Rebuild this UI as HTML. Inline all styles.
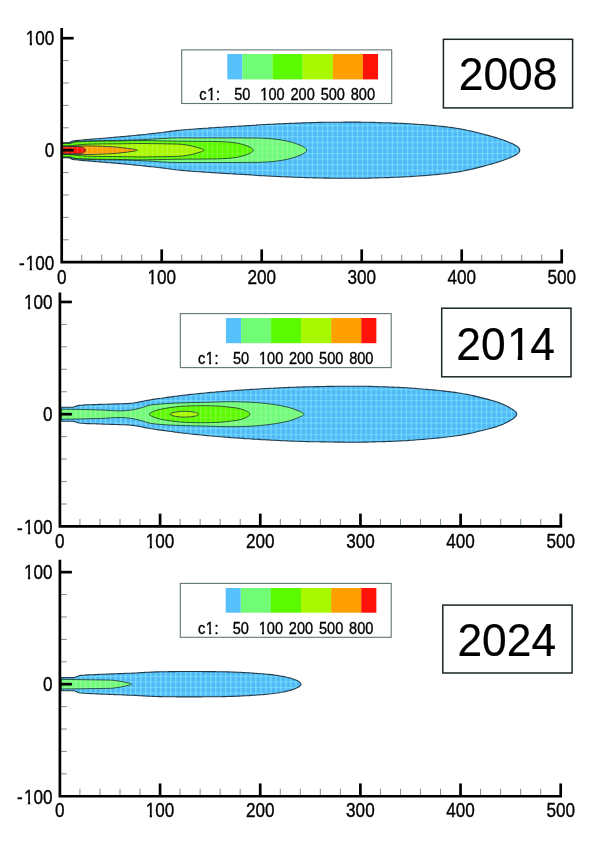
<!DOCTYPE html>
<html><head><meta charset="utf-8"><title>Plume contours 2008 2014 2024</title>
<style>html,body{margin:0;padding:0;background:#fff;}body{width:600px;height:850px;overflow:hidden;}svg{display:block;}</style>
</head><body>
<svg width="600" height="850" viewBox="0 0 600 850">
<rect width="600" height="850" fill="#fff"/>
<defs>
<pattern id="mesh_p1" x="61.80" y="153.00" width="5.000" height="5.600" patternUnits="userSpaceOnUse"><rect x="0" y="0" width="1.2" height="5.600" fill="#84e6ff" fill-opacity="0.7"/><rect x="0" y="0" width="5.000" height="1.1" fill="#84e6ff" fill-opacity="0.55"/></pattern>
<pattern id="meshw_p1" x="61.80" y="153.00" width="5.000" height="5.600" patternUnits="userSpaceOnUse"><rect x="0" y="0" width="1" height="5.600" fill="#fff" fill-opacity="0.22"/><rect x="0" y="0" width="5.000" height="0.8" fill="#fff" fill-opacity="0.12"/></pattern>
<pattern id="mesh_p2" x="60.00" y="417.00" width="5.009" height="5.613" patternUnits="userSpaceOnUse"><rect x="0" y="0" width="1.2" height="5.613" fill="#84e6ff" fill-opacity="0.7"/><rect x="0" y="0" width="5.009" height="1.1" fill="#84e6ff" fill-opacity="0.55"/></pattern>
<pattern id="meshw_p2" x="60.00" y="417.00" width="5.009" height="5.613" patternUnits="userSpaceOnUse"><rect x="0" y="0" width="1" height="5.613" fill="#fff" fill-opacity="0.22"/><rect x="0" y="0" width="5.009" height="0.8" fill="#fff" fill-opacity="0.12"/></pattern>
<pattern id="mesh_p3" x="60.00" y="687.00" width="5.008" height="5.603" patternUnits="userSpaceOnUse"><rect x="0" y="0" width="1.2" height="5.603" fill="#84e6ff" fill-opacity="0.7"/><rect x="0" y="0" width="5.008" height="1.1" fill="#84e6ff" fill-opacity="0.55"/></pattern>
<pattern id="meshw_p3" x="60.00" y="687.00" width="5.008" height="5.603" patternUnits="userSpaceOnUse"><rect x="0" y="0" width="1" height="5.603" fill="#fff" fill-opacity="0.22"/><rect x="0" y="0" width="5.008" height="0.8" fill="#fff" fill-opacity="0.12"/></pattern>
</defs>
<g id="p1"><path d="M62.0,142.7 L64.0,142.7 L66.0,142.7 L68.0,142.6 L70.0,142.3 L72.0,141.2 L74.0,140.8 L76.0,140.6 L78.0,140.4 L80.0,140.2 L82.0,140.0 L84.0,139.8 L86.0,139.6 L88.0,139.5 L90.0,139.3 L92.0,139.1 L94.0,139.0 L96.0,138.8 L98.0,138.7 L100.0,138.5 L102.0,138.3 L104.0,138.2 L106.0,138.0 L108.0,137.8 L110.0,137.7 L112.0,137.5 L114.0,137.3 L116.0,137.1 L118.0,137.0 L120.0,136.8 L122.0,136.6 L124.0,136.5 L126.0,136.3 L128.0,136.1 L130.0,135.9 L132.0,135.7 L134.0,135.5 L136.0,135.3 L138.0,135.1 L140.0,134.9 L142.0,134.7 L144.0,134.5 L146.0,134.3 L148.0,134.0 L150.0,133.8 L152.0,133.6 L154.0,133.4 L156.0,133.2 L158.0,132.9 L160.0,132.7 L162.0,132.5 L164.0,132.2 L166.0,131.9 L168.0,131.7 L170.0,131.4 L172.0,131.1 L174.0,130.9 L176.0,130.6 L178.0,130.4 L180.0,130.2 L182.0,130.0 L184.0,129.8 L186.0,129.7 L188.0,129.5 L190.0,129.3 L192.0,129.2 L194.0,129.0 L196.0,128.9 L198.0,128.7 L200.0,128.6 L202.0,128.5 L204.0,128.3 L206.0,128.2 L208.0,128.1 L210.0,127.9 L212.0,127.8 L214.0,127.7 L216.0,127.5 L218.0,127.4 L220.0,127.3 L222.0,127.2 L224.0,127.0 L226.0,126.9 L228.0,126.8 L230.0,126.7 L232.0,126.6 L234.0,126.5 L236.0,126.3 L238.0,126.2 L240.0,126.1 L242.0,126.0 L244.0,125.9 L246.0,125.8 L248.0,125.6 L250.0,125.5 L252.0,125.4 L254.0,125.2 L256.0,125.1 L258.0,124.9 L260.0,124.8 L262.0,124.7 L264.0,124.6 L266.0,124.5 L268.0,124.4 L270.0,124.3 L272.0,124.2 L274.0,124.1 L276.0,124.0 L278.0,123.9 L280.0,123.8 L282.0,123.7 L284.0,123.6 L286.0,123.5 L288.0,123.5 L290.0,123.4 L292.0,123.3 L294.0,123.2 L296.0,123.1 L298.0,123.1 L300.0,123.0 L302.0,122.9 L304.0,122.9 L306.0,122.8 L308.0,122.7 L310.0,122.6 L312.0,122.6 L314.0,122.5 L316.0,122.5 L318.0,122.4 L320.0,122.4 L322.0,122.4 L324.0,122.3 L326.0,122.3 L328.0,122.3 L330.0,122.3 L332.0,122.2 L334.0,122.2 L336.0,122.2 L338.0,122.2 L340.0,122.2 L342.0,122.2 L344.0,122.1 L346.0,122.1 L348.0,122.1 L350.0,122.1 L352.0,122.1 L354.0,122.1 L356.0,122.1 L358.0,122.1 L360.0,122.1 L362.0,122.2 L364.0,122.2 L366.0,122.2 L368.0,122.3 L370.0,122.3 L372.0,122.4 L374.0,122.4 L376.0,122.5 L378.0,122.5 L380.0,122.6 L382.0,122.7 L384.0,122.7 L386.0,122.8 L388.0,122.8 L390.0,122.9 L392.0,123.0 L394.0,123.1 L396.0,123.1 L398.0,123.2 L400.0,123.3 L402.0,123.4 L404.0,123.5 L406.0,123.6 L408.0,123.7 L410.0,123.8 L412.0,124.0 L414.0,124.1 L416.0,124.2 L418.0,124.4 L420.0,124.5 L422.0,124.6 L424.0,124.8 L426.0,124.9 L428.0,125.1 L430.0,125.3 L432.0,125.4 L434.0,125.6 L436.0,125.8 L438.0,126.0 L440.0,126.2 L442.0,126.4 L444.0,126.6 L446.0,126.8 L448.0,127.1 L450.0,127.3 L452.0,127.6 L454.0,127.9 L456.0,128.2 L458.0,128.5 L460.0,128.8 L462.0,129.2 L464.0,129.6 L466.0,130.0 L468.0,130.5 L470.0,130.9 L472.0,131.3 L474.0,131.8 L476.0,132.3 L478.0,132.8 L480.0,133.3 L482.0,133.8 L484.0,134.3 L486.0,134.9 L488.0,135.4 L490.0,135.9 L492.0,136.5 L494.0,137.1 L496.0,137.6 L498.0,138.3 L500.0,138.9 L502.0,139.6 L504.0,140.3 L506.0,141.1 L508.0,141.9 L510.0,142.7 L512.0,143.6 L514.0,144.5 L516.0,145.6 L516.8,146.2 L517.2,146.5 L517.7,146.8 L518.1,147.2 L518.5,147.6 L518.9,148.1 L519.4,148.7 L519.8,150.2 L519.4,151.7 L518.9,152.3 L518.5,152.8 L518.1,153.2 L517.7,153.6 L517.2,153.9 L516.8,154.2 L516.0,154.8 L514.0,155.9 L512.0,156.8 L510.0,157.7 L508.0,158.5 L506.0,159.3 L504.0,160.1 L502.0,160.8 L500.0,161.5 L498.0,162.1 L496.0,162.8 L494.0,163.3 L492.0,163.9 L490.0,164.5 L488.0,165.0 L486.0,165.5 L484.0,166.1 L482.0,166.6 L480.0,167.1 L478.0,167.6 L476.0,168.1 L474.0,168.6 L472.0,169.1 L470.0,169.5 L468.0,169.9 L466.0,170.4 L464.0,170.8 L462.0,171.2 L460.0,171.6 L458.0,171.9 L456.0,172.2 L454.0,172.5 L452.0,172.8 L450.0,173.1 L448.0,173.3 L446.0,173.6 L444.0,173.8 L442.0,174.0 L440.0,174.2 L438.0,174.4 L436.0,174.6 L434.0,174.8 L432.0,175.0 L430.0,175.1 L428.0,175.3 L426.0,175.5 L424.0,175.6 L422.0,175.8 L420.0,175.9 L418.0,176.0 L416.0,176.2 L414.0,176.3 L412.0,176.4 L410.0,176.6 L408.0,176.7 L406.0,176.8 L404.0,176.9 L402.0,177.0 L400.0,177.1 L398.0,177.2 L396.0,177.3 L394.0,177.3 L392.0,177.4 L390.0,177.5 L388.0,177.6 L386.0,177.6 L384.0,177.7 L382.0,177.7 L380.0,177.8 L378.0,177.9 L376.0,177.9 L374.0,178.0 L372.0,178.0 L370.0,178.1 L368.0,178.1 L366.0,178.2 L364.0,178.2 L362.0,178.2 L360.0,178.3 L358.0,178.3 L356.0,178.3 L354.0,178.3 L352.0,178.3 L350.0,178.3 L348.0,178.3 L346.0,178.3 L344.0,178.3 L342.0,178.2 L340.0,178.2 L338.0,178.2 L336.0,178.2 L334.0,178.2 L332.0,178.2 L330.0,178.1 L328.0,178.1 L326.0,178.1 L324.0,178.1 L322.0,178.0 L320.0,178.0 L318.0,178.0 L316.0,177.9 L314.0,177.9 L312.0,177.8 L310.0,177.8 L308.0,177.7 L306.0,177.6 L304.0,177.5 L302.0,177.5 L300.0,177.4 L298.0,177.3 L296.0,177.3 L294.0,177.2 L292.0,177.1 L290.0,177.0 L288.0,176.9 L286.0,176.9 L284.0,176.8 L282.0,176.7 L280.0,176.6 L278.0,176.5 L276.0,176.4 L274.0,176.3 L272.0,176.2 L270.0,176.1 L268.0,176.0 L266.0,175.9 L264.0,175.8 L262.0,175.7 L260.0,175.6 L258.0,175.5 L256.0,175.3 L254.0,175.2 L252.0,175.0 L250.0,174.9 L248.0,174.8 L246.0,174.6 L244.0,174.5 L242.0,174.4 L240.0,174.3 L238.0,174.2 L236.0,174.1 L234.0,173.9 L232.0,173.8 L230.0,173.7 L228.0,173.6 L226.0,173.5 L224.0,173.4 L222.0,173.2 L220.0,173.1 L218.0,173.0 L216.0,172.9 L214.0,172.7 L212.0,172.6 L210.0,172.5 L208.0,172.3 L206.0,172.2 L204.0,172.1 L202.0,171.9 L200.0,171.8 L198.0,171.7 L196.0,171.5 L194.0,171.4 L192.0,171.2 L190.0,171.1 L188.0,170.9 L186.0,170.7 L184.0,170.6 L182.0,170.4 L180.0,170.2 L178.0,170.0 L176.0,169.8 L174.0,169.5 L172.0,169.3 L170.0,169.0 L168.0,168.7 L166.0,168.5 L164.0,168.2 L162.0,167.9 L160.0,167.7 L158.0,167.5 L156.0,167.2 L154.0,167.0 L152.0,166.8 L150.0,166.6 L148.0,166.4 L146.0,166.1 L144.0,165.9 L142.0,165.7 L140.0,165.5 L138.0,165.3 L136.0,165.1 L134.0,164.9 L132.0,164.7 L130.0,164.5 L128.0,164.3 L126.0,164.1 L124.0,163.9 L122.0,163.8 L120.0,163.6 L118.0,163.4 L116.0,163.3 L114.0,163.1 L112.0,162.9 L110.0,162.7 L108.0,162.6 L106.0,162.4 L104.0,162.2 L102.0,162.1 L100.0,161.9 L98.0,161.7 L96.0,161.6 L94.0,161.4 L92.0,161.3 L90.0,161.1 L88.0,160.9 L86.0,160.8 L84.0,160.6 L82.0,160.4 L80.0,160.2 L78.0,160.0 L76.0,159.8 L74.0,159.6 L72.0,159.2 L70.0,158.1 L68.0,157.8 L66.0,157.7 L64.0,157.7 L62.0,157.7Z" fill="#4fb9f6"/>
<path d="M62.0,142.7 L64.0,142.7 L66.0,142.7 L68.0,142.6 L70.0,142.3 L72.0,141.2 L74.0,140.8 L76.0,140.6 L78.0,140.4 L80.0,140.2 L82.0,140.0 L84.0,139.8 L86.0,139.6 L88.0,139.5 L90.0,139.3 L92.0,139.1 L94.0,139.0 L96.0,138.8 L98.0,138.7 L100.0,138.5 L102.0,138.3 L104.0,138.2 L106.0,138.0 L108.0,137.8 L110.0,137.7 L112.0,137.5 L114.0,137.3 L116.0,137.1 L118.0,137.0 L120.0,136.8 L122.0,136.6 L124.0,136.5 L126.0,136.3 L128.0,136.1 L130.0,135.9 L132.0,135.7 L134.0,135.5 L136.0,135.3 L138.0,135.1 L140.0,134.9 L142.0,134.7 L144.0,134.5 L146.0,134.3 L148.0,134.0 L150.0,133.8 L152.0,133.6 L154.0,133.4 L156.0,133.2 L158.0,132.9 L160.0,132.7 L162.0,132.5 L164.0,132.2 L166.0,131.9 L168.0,131.7 L170.0,131.4 L172.0,131.1 L174.0,130.9 L176.0,130.6 L178.0,130.4 L180.0,130.2 L182.0,130.0 L184.0,129.8 L186.0,129.7 L188.0,129.5 L190.0,129.3 L192.0,129.2 L194.0,129.0 L196.0,128.9 L198.0,128.7 L200.0,128.6 L202.0,128.5 L204.0,128.3 L206.0,128.2 L208.0,128.1 L210.0,127.9 L212.0,127.8 L214.0,127.7 L216.0,127.5 L218.0,127.4 L220.0,127.3 L222.0,127.2 L224.0,127.0 L226.0,126.9 L228.0,126.8 L230.0,126.7 L232.0,126.6 L234.0,126.5 L236.0,126.3 L238.0,126.2 L240.0,126.1 L242.0,126.0 L244.0,125.9 L246.0,125.8 L248.0,125.6 L250.0,125.5 L252.0,125.4 L254.0,125.2 L256.0,125.1 L258.0,124.9 L260.0,124.8 L262.0,124.7 L264.0,124.6 L266.0,124.5 L268.0,124.4 L270.0,124.3 L272.0,124.2 L274.0,124.1 L276.0,124.0 L278.0,123.9 L280.0,123.8 L282.0,123.7 L284.0,123.6 L286.0,123.5 L288.0,123.5 L290.0,123.4 L292.0,123.3 L294.0,123.2 L296.0,123.1 L298.0,123.1 L300.0,123.0 L302.0,122.9 L304.0,122.9 L306.0,122.8 L308.0,122.7 L310.0,122.6 L312.0,122.6 L314.0,122.5 L316.0,122.5 L318.0,122.4 L320.0,122.4 L322.0,122.4 L324.0,122.3 L326.0,122.3 L328.0,122.3 L330.0,122.3 L332.0,122.2 L334.0,122.2 L336.0,122.2 L338.0,122.2 L340.0,122.2 L342.0,122.2 L344.0,122.1 L346.0,122.1 L348.0,122.1 L350.0,122.1 L352.0,122.1 L354.0,122.1 L356.0,122.1 L358.0,122.1 L360.0,122.1 L362.0,122.2 L364.0,122.2 L366.0,122.2 L368.0,122.3 L370.0,122.3 L372.0,122.4 L374.0,122.4 L376.0,122.5 L378.0,122.5 L380.0,122.6 L382.0,122.7 L384.0,122.7 L386.0,122.8 L388.0,122.8 L390.0,122.9 L392.0,123.0 L394.0,123.1 L396.0,123.1 L398.0,123.2 L400.0,123.3 L402.0,123.4 L404.0,123.5 L406.0,123.6 L408.0,123.7 L410.0,123.8 L412.0,124.0 L414.0,124.1 L416.0,124.2 L418.0,124.4 L420.0,124.5 L422.0,124.6 L424.0,124.8 L426.0,124.9 L428.0,125.1 L430.0,125.3 L432.0,125.4 L434.0,125.6 L436.0,125.8 L438.0,126.0 L440.0,126.2 L442.0,126.4 L444.0,126.6 L446.0,126.8 L448.0,127.1 L450.0,127.3 L452.0,127.6 L454.0,127.9 L456.0,128.2 L458.0,128.5 L460.0,128.8 L462.0,129.2 L464.0,129.6 L466.0,130.0 L468.0,130.5 L470.0,130.9 L472.0,131.3 L474.0,131.8 L476.0,132.3 L478.0,132.8 L480.0,133.3 L482.0,133.8 L484.0,134.3 L486.0,134.9 L488.0,135.4 L490.0,135.9 L492.0,136.5 L494.0,137.1 L496.0,137.6 L498.0,138.3 L500.0,138.9 L502.0,139.6 L504.0,140.3 L506.0,141.1 L508.0,141.9 L510.0,142.7 L512.0,143.6 L514.0,144.5 L516.0,145.6 L516.8,146.2 L517.2,146.5 L517.7,146.8 L518.1,147.2 L518.5,147.6 L518.9,148.1 L519.4,148.7 L519.8,150.2 L519.4,151.7 L518.9,152.3 L518.5,152.8 L518.1,153.2 L517.7,153.6 L517.2,153.9 L516.8,154.2 L516.0,154.8 L514.0,155.9 L512.0,156.8 L510.0,157.7 L508.0,158.5 L506.0,159.3 L504.0,160.1 L502.0,160.8 L500.0,161.5 L498.0,162.1 L496.0,162.8 L494.0,163.3 L492.0,163.9 L490.0,164.5 L488.0,165.0 L486.0,165.5 L484.0,166.1 L482.0,166.6 L480.0,167.1 L478.0,167.6 L476.0,168.1 L474.0,168.6 L472.0,169.1 L470.0,169.5 L468.0,169.9 L466.0,170.4 L464.0,170.8 L462.0,171.2 L460.0,171.6 L458.0,171.9 L456.0,172.2 L454.0,172.5 L452.0,172.8 L450.0,173.1 L448.0,173.3 L446.0,173.6 L444.0,173.8 L442.0,174.0 L440.0,174.2 L438.0,174.4 L436.0,174.6 L434.0,174.8 L432.0,175.0 L430.0,175.1 L428.0,175.3 L426.0,175.5 L424.0,175.6 L422.0,175.8 L420.0,175.9 L418.0,176.0 L416.0,176.2 L414.0,176.3 L412.0,176.4 L410.0,176.6 L408.0,176.7 L406.0,176.8 L404.0,176.9 L402.0,177.0 L400.0,177.1 L398.0,177.2 L396.0,177.3 L394.0,177.3 L392.0,177.4 L390.0,177.5 L388.0,177.6 L386.0,177.6 L384.0,177.7 L382.0,177.7 L380.0,177.8 L378.0,177.9 L376.0,177.9 L374.0,178.0 L372.0,178.0 L370.0,178.1 L368.0,178.1 L366.0,178.2 L364.0,178.2 L362.0,178.2 L360.0,178.3 L358.0,178.3 L356.0,178.3 L354.0,178.3 L352.0,178.3 L350.0,178.3 L348.0,178.3 L346.0,178.3 L344.0,178.3 L342.0,178.2 L340.0,178.2 L338.0,178.2 L336.0,178.2 L334.0,178.2 L332.0,178.2 L330.0,178.1 L328.0,178.1 L326.0,178.1 L324.0,178.1 L322.0,178.0 L320.0,178.0 L318.0,178.0 L316.0,177.9 L314.0,177.9 L312.0,177.8 L310.0,177.8 L308.0,177.7 L306.0,177.6 L304.0,177.5 L302.0,177.5 L300.0,177.4 L298.0,177.3 L296.0,177.3 L294.0,177.2 L292.0,177.1 L290.0,177.0 L288.0,176.9 L286.0,176.9 L284.0,176.8 L282.0,176.7 L280.0,176.6 L278.0,176.5 L276.0,176.4 L274.0,176.3 L272.0,176.2 L270.0,176.1 L268.0,176.0 L266.0,175.9 L264.0,175.8 L262.0,175.7 L260.0,175.6 L258.0,175.5 L256.0,175.3 L254.0,175.2 L252.0,175.0 L250.0,174.9 L248.0,174.8 L246.0,174.6 L244.0,174.5 L242.0,174.4 L240.0,174.3 L238.0,174.2 L236.0,174.1 L234.0,173.9 L232.0,173.8 L230.0,173.7 L228.0,173.6 L226.0,173.5 L224.0,173.4 L222.0,173.2 L220.0,173.1 L218.0,173.0 L216.0,172.9 L214.0,172.7 L212.0,172.6 L210.0,172.5 L208.0,172.3 L206.0,172.2 L204.0,172.1 L202.0,171.9 L200.0,171.8 L198.0,171.7 L196.0,171.5 L194.0,171.4 L192.0,171.2 L190.0,171.1 L188.0,170.9 L186.0,170.7 L184.0,170.6 L182.0,170.4 L180.0,170.2 L178.0,170.0 L176.0,169.8 L174.0,169.5 L172.0,169.3 L170.0,169.0 L168.0,168.7 L166.0,168.5 L164.0,168.2 L162.0,167.9 L160.0,167.7 L158.0,167.5 L156.0,167.2 L154.0,167.0 L152.0,166.8 L150.0,166.6 L148.0,166.4 L146.0,166.1 L144.0,165.9 L142.0,165.7 L140.0,165.5 L138.0,165.3 L136.0,165.1 L134.0,164.9 L132.0,164.7 L130.0,164.5 L128.0,164.3 L126.0,164.1 L124.0,163.9 L122.0,163.8 L120.0,163.6 L118.0,163.4 L116.0,163.3 L114.0,163.1 L112.0,162.9 L110.0,162.7 L108.0,162.6 L106.0,162.4 L104.0,162.2 L102.0,162.1 L100.0,161.9 L98.0,161.7 L96.0,161.6 L94.0,161.4 L92.0,161.3 L90.0,161.1 L88.0,160.9 L86.0,160.8 L84.0,160.6 L82.0,160.4 L80.0,160.2 L78.0,160.0 L76.0,159.8 L74.0,159.6 L72.0,159.2 L70.0,158.1 L68.0,157.8 L66.0,157.7 L64.0,157.7 L62.0,157.7Z" fill="url(#mesh_p1)"/>
<path d="M62.0,143.1 L64.0,143.1 L66.0,143.1 L68.0,143.1 L70.0,143.1 L72.0,142.6 L74.0,141.8 L76.0,141.5 L78.0,141.4 L80.0,141.3 L82.0,141.2 L84.0,141.1 L86.0,141.0 L88.0,141.0 L90.0,140.9 L92.0,140.9 L94.0,140.8 L96.0,140.8 L98.0,140.7 L100.0,140.7 L102.0,140.7 L104.0,140.6 L106.0,140.6 L108.0,140.6 L110.0,140.6 L112.0,140.5 L114.0,140.5 L116.0,140.5 L118.0,140.4 L120.0,140.4 L122.0,140.4 L124.0,140.3 L126.0,140.3 L128.0,140.2 L130.0,140.1 L132.0,140.1 L134.0,140.0 L136.0,139.9 L138.0,139.9 L140.0,139.8 L142.0,139.7 L144.0,139.6 L146.0,139.5 L148.0,139.4 L150.0,139.3 L152.0,139.2 L154.0,139.0 L156.0,138.9 L158.0,138.8 L160.0,138.6 L162.0,138.5 L164.0,138.4 L166.0,138.3 L168.0,138.2 L170.0,138.1 L172.0,138.0 L174.0,138.0 L176.0,137.9 L178.0,137.9 L180.0,137.9 L182.0,137.9 L184.0,137.9 L186.0,137.9 L188.0,137.9 L190.0,137.9 L192.0,137.9 L194.0,137.9 L196.0,137.9 L198.0,137.9 L200.0,137.9 L202.0,137.9 L204.0,137.9 L206.0,137.9 L208.0,137.9 L210.0,137.9 L212.0,137.9 L214.0,137.9 L216.0,137.9 L218.0,137.9 L220.0,137.9 L222.0,137.9 L224.0,137.9 L226.0,137.9 L228.0,137.9 L230.0,137.9 L232.0,137.9 L234.0,137.9 L236.0,137.9 L238.0,137.9 L240.0,137.9 L242.0,137.9 L244.0,137.9 L246.0,138.0 L248.0,138.0 L250.0,138.0 L252.0,138.0 L254.0,138.0 L256.0,138.0 L258.0,138.0 L260.0,138.1 L262.0,138.2 L264.0,138.3 L266.0,138.4 L268.0,138.5 L270.0,138.6 L272.0,138.8 L274.0,139.0 L276.0,139.2 L278.0,139.5 L280.0,139.8 L282.0,140.1 L284.0,140.5 L286.0,140.9 L288.0,141.3 L290.0,141.8 L292.0,142.3 L294.0,142.9 L296.0,143.6 L298.0,144.4 L300.0,145.2 L302.0,146.1 L303.7,147.0 L304.1,147.3 L304.6,147.6 L305.0,147.8 L305.4,148.2 L305.8,148.6 L306.3,149.0 L306.7,150.2 L306.3,151.4 L305.8,151.8 L305.4,152.2 L305.0,152.6 L304.6,152.8 L304.1,153.1 L303.7,153.4 L302.0,154.3 L300.0,155.2 L298.0,156.0 L296.0,156.8 L294.0,157.5 L292.0,158.1 L290.0,158.6 L288.0,159.1 L286.0,159.5 L284.0,159.9 L282.0,160.3 L280.0,160.6 L278.0,160.9 L276.0,161.2 L274.0,161.4 L272.0,161.6 L270.0,161.8 L268.0,161.9 L266.0,162.0 L264.0,162.1 L262.0,162.2 L260.0,162.3 L258.0,162.4 L256.0,162.4 L254.0,162.4 L252.0,162.4 L250.0,162.4 L248.0,162.4 L246.0,162.4 L244.0,162.5 L242.0,162.5 L240.0,162.5 L238.0,162.5 L236.0,162.5 L234.0,162.5 L232.0,162.5 L230.0,162.5 L228.0,162.5 L226.0,162.5 L224.0,162.5 L222.0,162.5 L220.0,162.5 L218.0,162.5 L216.0,162.5 L214.0,162.5 L212.0,162.5 L210.0,162.5 L208.0,162.5 L206.0,162.5 L204.0,162.5 L202.0,162.5 L200.0,162.5 L198.0,162.5 L196.0,162.5 L194.0,162.5 L192.0,162.5 L190.0,162.5 L188.0,162.5 L186.0,162.5 L184.0,162.5 L182.0,162.5 L180.0,162.5 L178.0,162.5 L176.0,162.5 L174.0,162.4 L172.0,162.4 L170.0,162.3 L168.0,162.2 L166.0,162.1 L164.0,162.0 L162.0,161.9 L160.0,161.8 L158.0,161.6 L156.0,161.5 L154.0,161.4 L152.0,161.2 L150.0,161.1 L148.0,161.0 L146.0,160.9 L144.0,160.8 L142.0,160.7 L140.0,160.6 L138.0,160.5 L136.0,160.5 L134.0,160.4 L132.0,160.3 L130.0,160.3 L128.0,160.2 L126.0,160.1 L124.0,160.1 L122.0,160.0 L120.0,160.0 L118.0,160.0 L116.0,159.9 L114.0,159.9 L112.0,159.9 L110.0,159.8 L108.0,159.8 L106.0,159.8 L104.0,159.8 L102.0,159.7 L100.0,159.7 L98.0,159.7 L96.0,159.6 L94.0,159.6 L92.0,159.5 L90.0,159.5 L88.0,159.4 L86.0,159.4 L84.0,159.3 L82.0,159.2 L80.0,159.1 L78.0,159.0 L76.0,158.9 L74.0,158.6 L72.0,157.8 L70.0,157.3 L68.0,157.3 L66.0,157.3 L64.0,157.3 L62.0,157.3Z" fill="#72fa7a"/>
<path d="M62.0,143.4 L64.0,143.4 L66.0,143.4 L68.0,143.4 L70.0,143.4 L72.0,142.9 L74.0,142.2 L76.0,141.9 L78.0,141.8 L80.0,141.7 L82.0,141.6 L84.0,141.5 L86.0,141.4 L88.0,141.4 L90.0,141.3 L92.0,141.3 L94.0,141.2 L96.0,141.2 L98.0,141.1 L100.0,141.1 L102.0,141.1 L104.0,141.1 L106.0,141.0 L108.0,141.0 L110.0,141.0 L112.0,141.0 L114.0,141.0 L116.0,140.9 L118.0,140.9 L120.0,140.9 L122.0,140.9 L124.0,140.8 L126.0,140.8 L128.0,140.8 L130.0,140.7 L132.0,140.7 L134.0,140.6 L136.0,140.6 L138.0,140.6 L140.0,140.6 L142.0,140.6 L144.0,140.6 L146.0,140.6 L148.0,140.6 L150.0,140.7 L152.0,140.7 L154.0,140.7 L156.0,140.8 L158.0,140.8 L160.0,140.8 L162.0,140.9 L164.0,140.9 L166.0,141.0 L168.0,141.0 L170.0,141.0 L172.0,141.1 L174.0,141.1 L176.0,141.1 L178.0,141.2 L180.0,141.2 L182.0,141.2 L184.0,141.2 L186.0,141.3 L188.0,141.3 L190.0,141.3 L192.0,141.3 L194.0,141.3 L196.0,141.3 L198.0,141.3 L200.0,141.4 L202.0,141.4 L204.0,141.4 L206.0,141.4 L208.0,141.4 L210.0,141.4 L212.0,141.5 L214.0,141.5 L216.0,141.5 L218.0,141.6 L220.0,141.6 L222.0,141.7 L224.0,141.8 L226.0,141.9 L228.0,142.0 L230.0,142.2 L232.0,142.4 L234.0,142.7 L236.0,142.9 L238.0,143.3 L240.0,143.8 L242.0,144.3 L244.0,144.9 L246.0,145.5 L248.0,146.3 L250.0,147.2 L250.3,147.3 L250.7,147.6 L251.2,147.8 L251.6,148.1 L252.0,148.4 L252.4,148.7 L252.9,149.2 L253.3,150.2 L252.9,151.2 L252.4,151.7 L252.0,152.0 L251.6,152.3 L251.2,152.6 L250.7,152.8 L250.3,153.1 L250.0,153.2 L248.0,154.1 L246.0,154.9 L244.0,155.5 L242.0,156.1 L240.0,156.6 L238.0,157.1 L236.0,157.5 L234.0,157.7 L232.0,158.0 L230.0,158.2 L228.0,158.4 L226.0,158.5 L224.0,158.6 L222.0,158.7 L220.0,158.8 L218.0,158.8 L216.0,158.9 L214.0,158.9 L212.0,158.9 L210.0,159.0 L208.0,159.0 L206.0,159.0 L204.0,159.0 L202.0,159.0 L200.0,159.0 L198.0,159.1 L196.0,159.1 L194.0,159.1 L192.0,159.1 L190.0,159.1 L188.0,159.1 L186.0,159.1 L184.0,159.2 L182.0,159.2 L180.0,159.2 L178.0,159.2 L176.0,159.3 L174.0,159.3 L172.0,159.3 L170.0,159.4 L168.0,159.4 L166.0,159.4 L164.0,159.5 L162.0,159.5 L160.0,159.6 L158.0,159.6 L156.0,159.6 L154.0,159.7 L152.0,159.7 L150.0,159.7 L148.0,159.8 L146.0,159.8 L144.0,159.8 L142.0,159.8 L140.0,159.8 L138.0,159.8 L136.0,159.8 L134.0,159.8 L132.0,159.7 L130.0,159.7 L128.0,159.6 L126.0,159.6 L124.0,159.6 L122.0,159.5 L120.0,159.5 L118.0,159.5 L116.0,159.5 L114.0,159.4 L112.0,159.4 L110.0,159.4 L108.0,159.4 L106.0,159.4 L104.0,159.3 L102.0,159.3 L100.0,159.3 L98.0,159.3 L96.0,159.2 L94.0,159.2 L92.0,159.1 L90.0,159.1 L88.0,159.0 L86.0,159.0 L84.0,158.9 L82.0,158.8 L80.0,158.7 L78.0,158.6 L76.0,158.5 L74.0,158.2 L72.0,157.5 L70.0,157.0 L68.0,157.0 L66.0,157.0 L64.0,157.0 L62.0,157.0Z" fill="#5cfa00"/>
<path d="M62.0,146.0 L64.0,146.0 L66.0,145.9 L68.0,145.9 L70.0,145.8 L72.0,145.7 L74.0,145.5 L76.0,145.2 L78.0,144.9 L80.0,144.7 L82.0,144.6 L84.0,144.4 L86.0,144.3 L88.0,144.2 L90.0,144.1 L92.0,144.1 L94.0,144.0 L96.0,144.0 L98.0,144.0 L100.0,143.9 L102.0,143.9 L104.0,143.9 L106.0,143.9 L108.0,143.9 L110.0,143.9 L112.0,143.9 L114.0,143.8 L116.0,143.8 L118.0,143.8 L120.0,143.8 L122.0,143.8 L124.0,143.7 L126.0,143.7 L128.0,143.7 L130.0,143.6 L132.0,143.6 L134.0,143.6 L136.0,143.5 L138.0,143.5 L140.0,143.5 L142.0,143.5 L144.0,143.5 L146.0,143.5 L148.0,143.5 L150.0,143.6 L152.0,143.6 L154.0,143.6 L156.0,143.6 L158.0,143.7 L160.0,143.7 L162.0,143.7 L164.0,143.8 L166.0,143.8 L168.0,143.9 L170.0,143.9 L172.0,143.9 L174.0,144.0 L176.0,144.0 L178.0,144.1 L180.0,144.2 L182.0,144.3 L184.0,144.6 L186.0,144.9 L188.0,145.2 L190.0,145.6 L192.0,146.0 L194.0,146.5 L196.0,147.1 L198.0,147.7 L200.0,148.3 L201.0,148.6 L201.4,148.7 L201.9,148.9 L202.3,149.0 L202.7,149.2 L203.1,149.4 L203.6,149.6 L204.0,150.2 L203.6,150.8 L203.1,151.0 L202.7,151.2 L202.3,151.4 L201.9,151.5 L201.4,151.7 L201.0,151.8 L200.0,152.1 L198.0,152.7 L196.0,153.3 L194.0,153.9 L192.0,154.4 L190.0,154.8 L188.0,155.2 L186.0,155.5 L184.0,155.8 L182.0,156.1 L180.0,156.2 L178.0,156.3 L176.0,156.4 L174.0,156.4 L172.0,156.5 L170.0,156.5 L168.0,156.5 L166.0,156.6 L164.0,156.6 L162.0,156.7 L160.0,156.7 L158.0,156.7 L156.0,156.8 L154.0,156.8 L152.0,156.8 L150.0,156.8 L148.0,156.9 L146.0,156.9 L144.0,156.9 L142.0,156.9 L140.0,156.9 L138.0,156.9 L136.0,156.9 L134.0,156.8 L132.0,156.8 L130.0,156.8 L128.0,156.7 L126.0,156.7 L124.0,156.7 L122.0,156.6 L120.0,156.6 L118.0,156.6 L116.0,156.6 L114.0,156.6 L112.0,156.5 L110.0,156.5 L108.0,156.5 L106.0,156.5 L104.0,156.5 L102.0,156.5 L100.0,156.5 L98.0,156.4 L96.0,156.4 L94.0,156.4 L92.0,156.3 L90.0,156.3 L88.0,156.2 L86.0,156.1 L84.0,156.0 L82.0,155.8 L80.0,155.7 L78.0,155.5 L76.0,155.2 L74.0,154.9 L72.0,154.7 L70.0,154.6 L68.0,154.5 L66.0,154.5 L64.0,154.4 L62.0,154.4Z" fill="#a8f800"/>
<path d="M62.0,146.3 L64.0,146.3 L66.0,146.2 L68.0,146.2 L70.0,146.2 L72.0,146.1 L74.0,146.1 L76.0,146.1 L78.0,146.0 L80.0,146.0 L82.0,146.0 L84.0,145.9 L86.0,145.9 L88.0,145.9 L90.0,145.9 L92.0,145.9 L94.0,146.0 L96.0,146.1 L98.0,146.1 L100.0,146.2 L102.0,146.3 L104.0,146.4 L106.0,146.5 L108.0,146.6 L110.0,146.7 L112.0,146.8 L114.0,146.9 L116.0,147.1 L118.0,147.2 L120.0,147.4 L122.0,147.7 L124.0,147.9 L126.0,148.1 L128.0,148.4 L130.0,148.7 L132.0,149.0 L134.0,149.3 L134.5,149.4 L134.9,149.5 L135.4,149.5 L135.8,149.6 L136.2,149.7 L136.6,149.8 L137.1,149.9 L137.5,150.2 L137.1,150.5 L136.6,150.6 L136.2,150.7 L135.8,150.8 L135.4,150.9 L134.9,150.9 L134.5,151.0 L134.0,151.1 L132.0,151.4 L130.0,151.7 L128.0,152.0 L126.0,152.3 L124.0,152.5 L122.0,152.7 L120.0,153.0 L118.0,153.2 L116.0,153.3 L114.0,153.5 L112.0,153.6 L110.0,153.7 L108.0,153.8 L106.0,153.9 L104.0,154.0 L102.0,154.1 L100.0,154.2 L98.0,154.3 L96.0,154.3 L94.0,154.4 L92.0,154.5 L90.0,154.5 L88.0,154.5 L86.0,154.5 L84.0,154.5 L82.0,154.4 L80.0,154.4 L78.0,154.4 L76.0,154.3 L74.0,154.3 L72.0,154.3 L70.0,154.2 L68.0,154.2 L66.0,154.2 L64.0,154.1 L62.0,154.1Z" fill="#ffa000"/>
<path d="M62.0,146.5 L64.0,146.5 L66.0,146.5 L68.0,146.5 L70.0,146.5 L72.0,146.5 L74.0,146.5 L76.0,146.5 L78.0,146.5 L80.0,146.7 L82.0,147.1 L82.5,147.3 L82.9,147.4 L83.4,147.6 L83.8,147.9 L84.2,148.2 L84.6,148.5 L85.1,149.0 L85.5,150.2 L85.1,151.4 L84.6,151.9 L84.2,152.2 L83.8,152.5 L83.4,152.8 L82.9,153.0 L82.5,153.1 L82.0,153.3 L80.0,153.7 L78.0,153.9 L76.0,153.9 L74.0,153.9 L72.0,153.9 L70.0,153.9 L68.0,153.9 L66.0,153.9 L64.0,153.9 L62.0,153.9Z" fill="#ff1208"/>
<path d="M62.0,143.1 L64.0,143.1 L66.0,143.1 L68.0,143.1 L70.0,143.1 L72.0,142.6 L74.0,141.8 L76.0,141.5 L78.0,141.4 L80.0,141.3 L82.0,141.2 L84.0,141.1 L86.0,141.0 L88.0,141.0 L90.0,140.9 L92.0,140.9 L94.0,140.8 L96.0,140.8 L98.0,140.7 L100.0,140.7 L102.0,140.7 L104.0,140.6 L106.0,140.6 L108.0,140.6 L110.0,140.6 L112.0,140.5 L114.0,140.5 L116.0,140.5 L118.0,140.4 L120.0,140.4 L122.0,140.4 L124.0,140.3 L126.0,140.3 L128.0,140.2 L130.0,140.1 L132.0,140.1 L134.0,140.0 L136.0,139.9 L138.0,139.9 L140.0,139.8 L142.0,139.7 L144.0,139.6 L146.0,139.5 L148.0,139.4 L150.0,139.3 L152.0,139.2 L154.0,139.0 L156.0,138.9 L158.0,138.8 L160.0,138.6 L162.0,138.5 L164.0,138.4 L166.0,138.3 L168.0,138.2 L170.0,138.1 L172.0,138.0 L174.0,138.0 L176.0,137.9 L178.0,137.9 L180.0,137.9 L182.0,137.9 L184.0,137.9 L186.0,137.9 L188.0,137.9 L190.0,137.9 L192.0,137.9 L194.0,137.9 L196.0,137.9 L198.0,137.9 L200.0,137.9 L202.0,137.9 L204.0,137.9 L206.0,137.9 L208.0,137.9 L210.0,137.9 L212.0,137.9 L214.0,137.9 L216.0,137.9 L218.0,137.9 L220.0,137.9 L222.0,137.9 L224.0,137.9 L226.0,137.9 L228.0,137.9 L230.0,137.9 L232.0,137.9 L234.0,137.9 L236.0,137.9 L238.0,137.9 L240.0,137.9 L242.0,137.9 L244.0,137.9 L246.0,138.0 L248.0,138.0 L250.0,138.0 L252.0,138.0 L254.0,138.0 L256.0,138.0 L258.0,138.0 L260.0,138.1 L262.0,138.2 L264.0,138.3 L266.0,138.4 L268.0,138.5 L270.0,138.6 L272.0,138.8 L274.0,139.0 L276.0,139.2 L278.0,139.5 L280.0,139.8 L282.0,140.1 L284.0,140.5 L286.0,140.9 L288.0,141.3 L290.0,141.8 L292.0,142.3 L294.0,142.9 L296.0,143.6 L298.0,144.4 L300.0,145.2 L302.0,146.1 L303.7,147.0 L304.1,147.3 L304.6,147.6 L305.0,147.8 L305.4,148.2 L305.8,148.6 L306.3,149.0 L306.7,150.2 L306.3,151.4 L305.8,151.8 L305.4,152.2 L305.0,152.6 L304.6,152.8 L304.1,153.1 L303.7,153.4 L302.0,154.3 L300.0,155.2 L298.0,156.0 L296.0,156.8 L294.0,157.5 L292.0,158.1 L290.0,158.6 L288.0,159.1 L286.0,159.5 L284.0,159.9 L282.0,160.3 L280.0,160.6 L278.0,160.9 L276.0,161.2 L274.0,161.4 L272.0,161.6 L270.0,161.8 L268.0,161.9 L266.0,162.0 L264.0,162.1 L262.0,162.2 L260.0,162.3 L258.0,162.4 L256.0,162.4 L254.0,162.4 L252.0,162.4 L250.0,162.4 L248.0,162.4 L246.0,162.4 L244.0,162.5 L242.0,162.5 L240.0,162.5 L238.0,162.5 L236.0,162.5 L234.0,162.5 L232.0,162.5 L230.0,162.5 L228.0,162.5 L226.0,162.5 L224.0,162.5 L222.0,162.5 L220.0,162.5 L218.0,162.5 L216.0,162.5 L214.0,162.5 L212.0,162.5 L210.0,162.5 L208.0,162.5 L206.0,162.5 L204.0,162.5 L202.0,162.5 L200.0,162.5 L198.0,162.5 L196.0,162.5 L194.0,162.5 L192.0,162.5 L190.0,162.5 L188.0,162.5 L186.0,162.5 L184.0,162.5 L182.0,162.5 L180.0,162.5 L178.0,162.5 L176.0,162.5 L174.0,162.4 L172.0,162.4 L170.0,162.3 L168.0,162.2 L166.0,162.1 L164.0,162.0 L162.0,161.9 L160.0,161.8 L158.0,161.6 L156.0,161.5 L154.0,161.4 L152.0,161.2 L150.0,161.1 L148.0,161.0 L146.0,160.9 L144.0,160.8 L142.0,160.7 L140.0,160.6 L138.0,160.5 L136.0,160.5 L134.0,160.4 L132.0,160.3 L130.0,160.3 L128.0,160.2 L126.0,160.1 L124.0,160.1 L122.0,160.0 L120.0,160.0 L118.0,160.0 L116.0,159.9 L114.0,159.9 L112.0,159.9 L110.0,159.8 L108.0,159.8 L106.0,159.8 L104.0,159.8 L102.0,159.7 L100.0,159.7 L98.0,159.7 L96.0,159.6 L94.0,159.6 L92.0,159.5 L90.0,159.5 L88.0,159.4 L86.0,159.4 L84.0,159.3 L82.0,159.2 L80.0,159.1 L78.0,159.0 L76.0,158.9 L74.0,158.6 L72.0,157.8 L70.0,157.3 L68.0,157.3 L66.0,157.3 L64.0,157.3 L62.0,157.3Z" fill="url(#meshw_p1)"/>
<path d="M62.0,142.7 L64.0,142.7 L66.0,142.7 L68.0,142.6 L70.0,142.3 L72.0,141.2 L74.0,140.8 L76.0,140.6 L78.0,140.4 L80.0,140.2 L82.0,140.0 L84.0,139.8 L86.0,139.6 L88.0,139.5 L90.0,139.3 L92.0,139.1 L94.0,139.0 L96.0,138.8 L98.0,138.7 L100.0,138.5 L102.0,138.3 L104.0,138.2 L106.0,138.0 L108.0,137.8 L110.0,137.7 L112.0,137.5 L114.0,137.3 L116.0,137.1 L118.0,137.0 L120.0,136.8 L122.0,136.6 L124.0,136.5 L126.0,136.3 L128.0,136.1 L130.0,135.9 L132.0,135.7 L134.0,135.5 L136.0,135.3 L138.0,135.1 L140.0,134.9 L142.0,134.7 L144.0,134.5 L146.0,134.3 L148.0,134.0 L150.0,133.8 L152.0,133.6 L154.0,133.4 L156.0,133.2 L158.0,132.9 L160.0,132.7 L162.0,132.5 L164.0,132.2 L166.0,131.9 L168.0,131.7 L170.0,131.4 L172.0,131.1 L174.0,130.9 L176.0,130.6 L178.0,130.4 L180.0,130.2 L182.0,130.0 L184.0,129.8 L186.0,129.7 L188.0,129.5 L190.0,129.3 L192.0,129.2 L194.0,129.0 L196.0,128.9 L198.0,128.7 L200.0,128.6 L202.0,128.5 L204.0,128.3 L206.0,128.2 L208.0,128.1 L210.0,127.9 L212.0,127.8 L214.0,127.7 L216.0,127.5 L218.0,127.4 L220.0,127.3 L222.0,127.2 L224.0,127.0 L226.0,126.9 L228.0,126.8 L230.0,126.7 L232.0,126.6 L234.0,126.5 L236.0,126.3 L238.0,126.2 L240.0,126.1 L242.0,126.0 L244.0,125.9 L246.0,125.8 L248.0,125.6 L250.0,125.5 L252.0,125.4 L254.0,125.2 L256.0,125.1 L258.0,124.9 L260.0,124.8 L262.0,124.7 L264.0,124.6 L266.0,124.5 L268.0,124.4 L270.0,124.3 L272.0,124.2 L274.0,124.1 L276.0,124.0 L278.0,123.9 L280.0,123.8 L282.0,123.7 L284.0,123.6 L286.0,123.5 L288.0,123.5 L290.0,123.4 L292.0,123.3 L294.0,123.2 L296.0,123.1 L298.0,123.1 L300.0,123.0 L302.0,122.9 L304.0,122.9 L306.0,122.8 L308.0,122.7 L310.0,122.6 L312.0,122.6 L314.0,122.5 L316.0,122.5 L318.0,122.4 L320.0,122.4 L322.0,122.4 L324.0,122.3 L326.0,122.3 L328.0,122.3 L330.0,122.3 L332.0,122.2 L334.0,122.2 L336.0,122.2 L338.0,122.2 L340.0,122.2 L342.0,122.2 L344.0,122.1 L346.0,122.1 L348.0,122.1 L350.0,122.1 L352.0,122.1 L354.0,122.1 L356.0,122.1 L358.0,122.1 L360.0,122.1 L362.0,122.2 L364.0,122.2 L366.0,122.2 L368.0,122.3 L370.0,122.3 L372.0,122.4 L374.0,122.4 L376.0,122.5 L378.0,122.5 L380.0,122.6 L382.0,122.7 L384.0,122.7 L386.0,122.8 L388.0,122.8 L390.0,122.9 L392.0,123.0 L394.0,123.1 L396.0,123.1 L398.0,123.2 L400.0,123.3 L402.0,123.4 L404.0,123.5 L406.0,123.6 L408.0,123.7 L410.0,123.8 L412.0,124.0 L414.0,124.1 L416.0,124.2 L418.0,124.4 L420.0,124.5 L422.0,124.6 L424.0,124.8 L426.0,124.9 L428.0,125.1 L430.0,125.3 L432.0,125.4 L434.0,125.6 L436.0,125.8 L438.0,126.0 L440.0,126.2 L442.0,126.4 L444.0,126.6 L446.0,126.8 L448.0,127.1 L450.0,127.3 L452.0,127.6 L454.0,127.9 L456.0,128.2 L458.0,128.5 L460.0,128.8 L462.0,129.2 L464.0,129.6 L466.0,130.0 L468.0,130.5 L470.0,130.9 L472.0,131.3 L474.0,131.8 L476.0,132.3 L478.0,132.8 L480.0,133.3 L482.0,133.8 L484.0,134.3 L486.0,134.9 L488.0,135.4 L490.0,135.9 L492.0,136.5 L494.0,137.1 L496.0,137.6 L498.0,138.3 L500.0,138.9 L502.0,139.6 L504.0,140.3 L506.0,141.1 L508.0,141.9 L510.0,142.7 L512.0,143.6 L514.0,144.5 L516.0,145.6 L516.8,146.2 L517.2,146.5 L517.7,146.8 L518.1,147.2 L518.5,147.6 L518.9,148.1 L519.4,148.7 L519.8,150.2 L519.4,151.7 L518.9,152.3 L518.5,152.8 L518.1,153.2 L517.7,153.6 L517.2,153.9 L516.8,154.2 L516.0,154.8 L514.0,155.9 L512.0,156.8 L510.0,157.7 L508.0,158.5 L506.0,159.3 L504.0,160.1 L502.0,160.8 L500.0,161.5 L498.0,162.1 L496.0,162.8 L494.0,163.3 L492.0,163.9 L490.0,164.5 L488.0,165.0 L486.0,165.5 L484.0,166.1 L482.0,166.6 L480.0,167.1 L478.0,167.6 L476.0,168.1 L474.0,168.6 L472.0,169.1 L470.0,169.5 L468.0,169.9 L466.0,170.4 L464.0,170.8 L462.0,171.2 L460.0,171.6 L458.0,171.9 L456.0,172.2 L454.0,172.5 L452.0,172.8 L450.0,173.1 L448.0,173.3 L446.0,173.6 L444.0,173.8 L442.0,174.0 L440.0,174.2 L438.0,174.4 L436.0,174.6 L434.0,174.8 L432.0,175.0 L430.0,175.1 L428.0,175.3 L426.0,175.5 L424.0,175.6 L422.0,175.8 L420.0,175.9 L418.0,176.0 L416.0,176.2 L414.0,176.3 L412.0,176.4 L410.0,176.6 L408.0,176.7 L406.0,176.8 L404.0,176.9 L402.0,177.0 L400.0,177.1 L398.0,177.2 L396.0,177.3 L394.0,177.3 L392.0,177.4 L390.0,177.5 L388.0,177.6 L386.0,177.6 L384.0,177.7 L382.0,177.7 L380.0,177.8 L378.0,177.9 L376.0,177.9 L374.0,178.0 L372.0,178.0 L370.0,178.1 L368.0,178.1 L366.0,178.2 L364.0,178.2 L362.0,178.2 L360.0,178.3 L358.0,178.3 L356.0,178.3 L354.0,178.3 L352.0,178.3 L350.0,178.3 L348.0,178.3 L346.0,178.3 L344.0,178.3 L342.0,178.2 L340.0,178.2 L338.0,178.2 L336.0,178.2 L334.0,178.2 L332.0,178.2 L330.0,178.1 L328.0,178.1 L326.0,178.1 L324.0,178.1 L322.0,178.0 L320.0,178.0 L318.0,178.0 L316.0,177.9 L314.0,177.9 L312.0,177.8 L310.0,177.8 L308.0,177.7 L306.0,177.6 L304.0,177.5 L302.0,177.5 L300.0,177.4 L298.0,177.3 L296.0,177.3 L294.0,177.2 L292.0,177.1 L290.0,177.0 L288.0,176.9 L286.0,176.9 L284.0,176.8 L282.0,176.7 L280.0,176.6 L278.0,176.5 L276.0,176.4 L274.0,176.3 L272.0,176.2 L270.0,176.1 L268.0,176.0 L266.0,175.9 L264.0,175.8 L262.0,175.7 L260.0,175.6 L258.0,175.5 L256.0,175.3 L254.0,175.2 L252.0,175.0 L250.0,174.9 L248.0,174.8 L246.0,174.6 L244.0,174.5 L242.0,174.4 L240.0,174.3 L238.0,174.2 L236.0,174.1 L234.0,173.9 L232.0,173.8 L230.0,173.7 L228.0,173.6 L226.0,173.5 L224.0,173.4 L222.0,173.2 L220.0,173.1 L218.0,173.0 L216.0,172.9 L214.0,172.7 L212.0,172.6 L210.0,172.5 L208.0,172.3 L206.0,172.2 L204.0,172.1 L202.0,171.9 L200.0,171.8 L198.0,171.7 L196.0,171.5 L194.0,171.4 L192.0,171.2 L190.0,171.1 L188.0,170.9 L186.0,170.7 L184.0,170.6 L182.0,170.4 L180.0,170.2 L178.0,170.0 L176.0,169.8 L174.0,169.5 L172.0,169.3 L170.0,169.0 L168.0,168.7 L166.0,168.5 L164.0,168.2 L162.0,167.9 L160.0,167.7 L158.0,167.5 L156.0,167.2 L154.0,167.0 L152.0,166.8 L150.0,166.6 L148.0,166.4 L146.0,166.1 L144.0,165.9 L142.0,165.7 L140.0,165.5 L138.0,165.3 L136.0,165.1 L134.0,164.9 L132.0,164.7 L130.0,164.5 L128.0,164.3 L126.0,164.1 L124.0,163.9 L122.0,163.8 L120.0,163.6 L118.0,163.4 L116.0,163.3 L114.0,163.1 L112.0,162.9 L110.0,162.7 L108.0,162.6 L106.0,162.4 L104.0,162.2 L102.0,162.1 L100.0,161.9 L98.0,161.7 L96.0,161.6 L94.0,161.4 L92.0,161.3 L90.0,161.1 L88.0,160.9 L86.0,160.8 L84.0,160.6 L82.0,160.4 L80.0,160.2 L78.0,160.0 L76.0,159.8 L74.0,159.6 L72.0,159.2 L70.0,158.1 L68.0,157.8 L66.0,157.7 L64.0,157.7 L62.0,157.7Z" fill="none" stroke="#15293a" stroke-width="1.1" stroke-opacity="0.9"/>
<path d="M62.0,143.1 L64.0,143.1 L66.0,143.1 L68.0,143.1 L70.0,143.1 L72.0,142.6 L74.0,141.8 L76.0,141.5 L78.0,141.4 L80.0,141.3 L82.0,141.2 L84.0,141.1 L86.0,141.0 L88.0,141.0 L90.0,140.9 L92.0,140.9 L94.0,140.8 L96.0,140.8 L98.0,140.7 L100.0,140.7 L102.0,140.7 L104.0,140.6 L106.0,140.6 L108.0,140.6 L110.0,140.6 L112.0,140.5 L114.0,140.5 L116.0,140.5 L118.0,140.4 L120.0,140.4 L122.0,140.4 L124.0,140.3 L126.0,140.3 L128.0,140.2 L130.0,140.1 L132.0,140.1 L134.0,140.0 L136.0,139.9 L138.0,139.9 L140.0,139.8 L142.0,139.7 L144.0,139.6 L146.0,139.5 L148.0,139.4 L150.0,139.3 L152.0,139.2 L154.0,139.0 L156.0,138.9 L158.0,138.8 L160.0,138.6 L162.0,138.5 L164.0,138.4 L166.0,138.3 L168.0,138.2 L170.0,138.1 L172.0,138.0 L174.0,138.0 L176.0,137.9 L178.0,137.9 L180.0,137.9 L182.0,137.9 L184.0,137.9 L186.0,137.9 L188.0,137.9 L190.0,137.9 L192.0,137.9 L194.0,137.9 L196.0,137.9 L198.0,137.9 L200.0,137.9 L202.0,137.9 L204.0,137.9 L206.0,137.9 L208.0,137.9 L210.0,137.9 L212.0,137.9 L214.0,137.9 L216.0,137.9 L218.0,137.9 L220.0,137.9 L222.0,137.9 L224.0,137.9 L226.0,137.9 L228.0,137.9 L230.0,137.9 L232.0,137.9 L234.0,137.9 L236.0,137.9 L238.0,137.9 L240.0,137.9 L242.0,137.9 L244.0,137.9 L246.0,138.0 L248.0,138.0 L250.0,138.0 L252.0,138.0 L254.0,138.0 L256.0,138.0 L258.0,138.0 L260.0,138.1 L262.0,138.2 L264.0,138.3 L266.0,138.4 L268.0,138.5 L270.0,138.6 L272.0,138.8 L274.0,139.0 L276.0,139.2 L278.0,139.5 L280.0,139.8 L282.0,140.1 L284.0,140.5 L286.0,140.9 L288.0,141.3 L290.0,141.8 L292.0,142.3 L294.0,142.9 L296.0,143.6 L298.0,144.4 L300.0,145.2 L302.0,146.1 L303.7,147.0 L304.1,147.3 L304.6,147.6 L305.0,147.8 L305.4,148.2 L305.8,148.6 L306.3,149.0 L306.7,150.2 L306.3,151.4 L305.8,151.8 L305.4,152.2 L305.0,152.6 L304.6,152.8 L304.1,153.1 L303.7,153.4 L302.0,154.3 L300.0,155.2 L298.0,156.0 L296.0,156.8 L294.0,157.5 L292.0,158.1 L290.0,158.6 L288.0,159.1 L286.0,159.5 L284.0,159.9 L282.0,160.3 L280.0,160.6 L278.0,160.9 L276.0,161.2 L274.0,161.4 L272.0,161.6 L270.0,161.8 L268.0,161.9 L266.0,162.0 L264.0,162.1 L262.0,162.2 L260.0,162.3 L258.0,162.4 L256.0,162.4 L254.0,162.4 L252.0,162.4 L250.0,162.4 L248.0,162.4 L246.0,162.4 L244.0,162.5 L242.0,162.5 L240.0,162.5 L238.0,162.5 L236.0,162.5 L234.0,162.5 L232.0,162.5 L230.0,162.5 L228.0,162.5 L226.0,162.5 L224.0,162.5 L222.0,162.5 L220.0,162.5 L218.0,162.5 L216.0,162.5 L214.0,162.5 L212.0,162.5 L210.0,162.5 L208.0,162.5 L206.0,162.5 L204.0,162.5 L202.0,162.5 L200.0,162.5 L198.0,162.5 L196.0,162.5 L194.0,162.5 L192.0,162.5 L190.0,162.5 L188.0,162.5 L186.0,162.5 L184.0,162.5 L182.0,162.5 L180.0,162.5 L178.0,162.5 L176.0,162.5 L174.0,162.4 L172.0,162.4 L170.0,162.3 L168.0,162.2 L166.0,162.1 L164.0,162.0 L162.0,161.9 L160.0,161.8 L158.0,161.6 L156.0,161.5 L154.0,161.4 L152.0,161.2 L150.0,161.1 L148.0,161.0 L146.0,160.9 L144.0,160.8 L142.0,160.7 L140.0,160.6 L138.0,160.5 L136.0,160.5 L134.0,160.4 L132.0,160.3 L130.0,160.3 L128.0,160.2 L126.0,160.1 L124.0,160.1 L122.0,160.0 L120.0,160.0 L118.0,160.0 L116.0,159.9 L114.0,159.9 L112.0,159.9 L110.0,159.8 L108.0,159.8 L106.0,159.8 L104.0,159.8 L102.0,159.7 L100.0,159.7 L98.0,159.7 L96.0,159.6 L94.0,159.6 L92.0,159.5 L90.0,159.5 L88.0,159.4 L86.0,159.4 L84.0,159.3 L82.0,159.2 L80.0,159.1 L78.0,159.0 L76.0,158.9 L74.0,158.6 L72.0,157.8 L70.0,157.3 L68.0,157.3 L66.0,157.3 L64.0,157.3 L62.0,157.3Z" fill="none" stroke="#1c3a2c" stroke-width="0.9" stroke-opacity="0.9"/>
<path d="M62.0,143.4 L64.0,143.4 L66.0,143.4 L68.0,143.4 L70.0,143.4 L72.0,142.9 L74.0,142.2 L76.0,141.9 L78.0,141.8 L80.0,141.7 L82.0,141.6 L84.0,141.5 L86.0,141.4 L88.0,141.4 L90.0,141.3 L92.0,141.3 L94.0,141.2 L96.0,141.2 L98.0,141.1 L100.0,141.1 L102.0,141.1 L104.0,141.1 L106.0,141.0 L108.0,141.0 L110.0,141.0 L112.0,141.0 L114.0,141.0 L116.0,140.9 L118.0,140.9 L120.0,140.9 L122.0,140.9 L124.0,140.8 L126.0,140.8 L128.0,140.8 L130.0,140.7 L132.0,140.7 L134.0,140.6 L136.0,140.6 L138.0,140.6 L140.0,140.6 L142.0,140.6 L144.0,140.6 L146.0,140.6 L148.0,140.6 L150.0,140.7 L152.0,140.7 L154.0,140.7 L156.0,140.8 L158.0,140.8 L160.0,140.8 L162.0,140.9 L164.0,140.9 L166.0,141.0 L168.0,141.0 L170.0,141.0 L172.0,141.1 L174.0,141.1 L176.0,141.1 L178.0,141.2 L180.0,141.2 L182.0,141.2 L184.0,141.2 L186.0,141.3 L188.0,141.3 L190.0,141.3 L192.0,141.3 L194.0,141.3 L196.0,141.3 L198.0,141.3 L200.0,141.4 L202.0,141.4 L204.0,141.4 L206.0,141.4 L208.0,141.4 L210.0,141.4 L212.0,141.5 L214.0,141.5 L216.0,141.5 L218.0,141.6 L220.0,141.6 L222.0,141.7 L224.0,141.8 L226.0,141.9 L228.0,142.0 L230.0,142.2 L232.0,142.4 L234.0,142.7 L236.0,142.9 L238.0,143.3 L240.0,143.8 L242.0,144.3 L244.0,144.9 L246.0,145.5 L248.0,146.3 L250.0,147.2 L250.3,147.3 L250.7,147.6 L251.2,147.8 L251.6,148.1 L252.0,148.4 L252.4,148.7 L252.9,149.2 L253.3,150.2 L252.9,151.2 L252.4,151.7 L252.0,152.0 L251.6,152.3 L251.2,152.6 L250.7,152.8 L250.3,153.1 L250.0,153.2 L248.0,154.1 L246.0,154.9 L244.0,155.5 L242.0,156.1 L240.0,156.6 L238.0,157.1 L236.0,157.5 L234.0,157.7 L232.0,158.0 L230.0,158.2 L228.0,158.4 L226.0,158.5 L224.0,158.6 L222.0,158.7 L220.0,158.8 L218.0,158.8 L216.0,158.9 L214.0,158.9 L212.0,158.9 L210.0,159.0 L208.0,159.0 L206.0,159.0 L204.0,159.0 L202.0,159.0 L200.0,159.0 L198.0,159.1 L196.0,159.1 L194.0,159.1 L192.0,159.1 L190.0,159.1 L188.0,159.1 L186.0,159.1 L184.0,159.2 L182.0,159.2 L180.0,159.2 L178.0,159.2 L176.0,159.3 L174.0,159.3 L172.0,159.3 L170.0,159.4 L168.0,159.4 L166.0,159.4 L164.0,159.5 L162.0,159.5 L160.0,159.6 L158.0,159.6 L156.0,159.6 L154.0,159.7 L152.0,159.7 L150.0,159.7 L148.0,159.8 L146.0,159.8 L144.0,159.8 L142.0,159.8 L140.0,159.8 L138.0,159.8 L136.0,159.8 L134.0,159.8 L132.0,159.7 L130.0,159.7 L128.0,159.6 L126.0,159.6 L124.0,159.6 L122.0,159.5 L120.0,159.5 L118.0,159.5 L116.0,159.5 L114.0,159.4 L112.0,159.4 L110.0,159.4 L108.0,159.4 L106.0,159.4 L104.0,159.3 L102.0,159.3 L100.0,159.3 L98.0,159.3 L96.0,159.2 L94.0,159.2 L92.0,159.1 L90.0,159.1 L88.0,159.0 L86.0,159.0 L84.0,158.9 L82.0,158.8 L80.0,158.7 L78.0,158.6 L76.0,158.5 L74.0,158.2 L72.0,157.5 L70.0,157.0 L68.0,157.0 L66.0,157.0 L64.0,157.0 L62.0,157.0Z" fill="none" stroke="#1c3a2c" stroke-width="0.9" stroke-opacity="0.9"/>
<path d="M62.0,146.0 L64.0,146.0 L66.0,145.9 L68.0,145.9 L70.0,145.8 L72.0,145.7 L74.0,145.5 L76.0,145.2 L78.0,144.9 L80.0,144.7 L82.0,144.6 L84.0,144.4 L86.0,144.3 L88.0,144.2 L90.0,144.1 L92.0,144.1 L94.0,144.0 L96.0,144.0 L98.0,144.0 L100.0,143.9 L102.0,143.9 L104.0,143.9 L106.0,143.9 L108.0,143.9 L110.0,143.9 L112.0,143.9 L114.0,143.8 L116.0,143.8 L118.0,143.8 L120.0,143.8 L122.0,143.8 L124.0,143.7 L126.0,143.7 L128.0,143.7 L130.0,143.6 L132.0,143.6 L134.0,143.6 L136.0,143.5 L138.0,143.5 L140.0,143.5 L142.0,143.5 L144.0,143.5 L146.0,143.5 L148.0,143.5 L150.0,143.6 L152.0,143.6 L154.0,143.6 L156.0,143.6 L158.0,143.7 L160.0,143.7 L162.0,143.7 L164.0,143.8 L166.0,143.8 L168.0,143.9 L170.0,143.9 L172.0,143.9 L174.0,144.0 L176.0,144.0 L178.0,144.1 L180.0,144.2 L182.0,144.3 L184.0,144.6 L186.0,144.9 L188.0,145.2 L190.0,145.6 L192.0,146.0 L194.0,146.5 L196.0,147.1 L198.0,147.7 L200.0,148.3 L201.0,148.6 L201.4,148.7 L201.9,148.9 L202.3,149.0 L202.7,149.2 L203.1,149.4 L203.6,149.6 L204.0,150.2 L203.6,150.8 L203.1,151.0 L202.7,151.2 L202.3,151.4 L201.9,151.5 L201.4,151.7 L201.0,151.8 L200.0,152.1 L198.0,152.7 L196.0,153.3 L194.0,153.9 L192.0,154.4 L190.0,154.8 L188.0,155.2 L186.0,155.5 L184.0,155.8 L182.0,156.1 L180.0,156.2 L178.0,156.3 L176.0,156.4 L174.0,156.4 L172.0,156.5 L170.0,156.5 L168.0,156.5 L166.0,156.6 L164.0,156.6 L162.0,156.7 L160.0,156.7 L158.0,156.7 L156.0,156.8 L154.0,156.8 L152.0,156.8 L150.0,156.8 L148.0,156.9 L146.0,156.9 L144.0,156.9 L142.0,156.9 L140.0,156.9 L138.0,156.9 L136.0,156.9 L134.0,156.8 L132.0,156.8 L130.0,156.8 L128.0,156.7 L126.0,156.7 L124.0,156.7 L122.0,156.6 L120.0,156.6 L118.0,156.6 L116.0,156.6 L114.0,156.6 L112.0,156.5 L110.0,156.5 L108.0,156.5 L106.0,156.5 L104.0,156.5 L102.0,156.5 L100.0,156.5 L98.0,156.4 L96.0,156.4 L94.0,156.4 L92.0,156.3 L90.0,156.3 L88.0,156.2 L86.0,156.1 L84.0,156.0 L82.0,155.8 L80.0,155.7 L78.0,155.5 L76.0,155.2 L74.0,154.9 L72.0,154.7 L70.0,154.6 L68.0,154.5 L66.0,154.5 L64.0,154.4 L62.0,154.4Z" fill="none" stroke="#1c3a2c" stroke-width="0.9" stroke-opacity="0.9"/>
<path d="M62.0,146.3 L64.0,146.3 L66.0,146.2 L68.0,146.2 L70.0,146.2 L72.0,146.1 L74.0,146.1 L76.0,146.1 L78.0,146.0 L80.0,146.0 L82.0,146.0 L84.0,145.9 L86.0,145.9 L88.0,145.9 L90.0,145.9 L92.0,145.9 L94.0,146.0 L96.0,146.1 L98.0,146.1 L100.0,146.2 L102.0,146.3 L104.0,146.4 L106.0,146.5 L108.0,146.6 L110.0,146.7 L112.0,146.8 L114.0,146.9 L116.0,147.1 L118.0,147.2 L120.0,147.4 L122.0,147.7 L124.0,147.9 L126.0,148.1 L128.0,148.4 L130.0,148.7 L132.0,149.0 L134.0,149.3 L134.5,149.4 L134.9,149.5 L135.4,149.5 L135.8,149.6 L136.2,149.7 L136.6,149.8 L137.1,149.9 L137.5,150.2 L137.1,150.5 L136.6,150.6 L136.2,150.7 L135.8,150.8 L135.4,150.9 L134.9,150.9 L134.5,151.0 L134.0,151.1 L132.0,151.4 L130.0,151.7 L128.0,152.0 L126.0,152.3 L124.0,152.5 L122.0,152.7 L120.0,153.0 L118.0,153.2 L116.0,153.3 L114.0,153.5 L112.0,153.6 L110.0,153.7 L108.0,153.8 L106.0,153.9 L104.0,154.0 L102.0,154.1 L100.0,154.2 L98.0,154.3 L96.0,154.3 L94.0,154.4 L92.0,154.5 L90.0,154.5 L88.0,154.5 L86.0,154.5 L84.0,154.5 L82.0,154.4 L80.0,154.4 L78.0,154.4 L76.0,154.3 L74.0,154.3 L72.0,154.3 L70.0,154.2 L68.0,154.2 L66.0,154.2 L64.0,154.1 L62.0,154.1Z" fill="none" stroke="#1c3a2c" stroke-width="0.9" stroke-opacity="0.9"/>
<path d="M62.0,146.5 L64.0,146.5 L66.0,146.5 L68.0,146.5 L70.0,146.5 L72.0,146.5 L74.0,146.5 L76.0,146.5 L78.0,146.5 L80.0,146.7 L82.0,147.1 L82.5,147.3 L82.9,147.4 L83.4,147.6 L83.8,147.9 L84.2,148.2 L84.6,148.5 L85.1,149.0 L85.5,150.2 L85.1,151.4 L84.6,151.9 L84.2,152.2 L83.8,152.5 L83.4,152.8 L82.9,153.0 L82.5,153.1 L82.0,153.3 L80.0,153.7 L78.0,153.9 L76.0,153.9 L74.0,153.9 L72.0,153.9 L70.0,153.9 L68.0,153.9 L66.0,153.9 L64.0,153.9 L62.0,153.9Z" fill="none" stroke="#1c3a2c" stroke-width="0.9" stroke-opacity="0.9"/>
<line x1="81.70" y1="262.20" x2="81.70" y2="254.70" stroke="#7d9090" stroke-width="1"/>
<line x1="101.70" y1="262.20" x2="101.70" y2="254.70" stroke="#7d9090" stroke-width="1"/>
<line x1="121.70" y1="262.20" x2="121.70" y2="254.70" stroke="#7d9090" stroke-width="1"/>
<line x1="141.70" y1="262.20" x2="141.70" y2="254.70" stroke="#7d9090" stroke-width="1"/>
<line x1="181.70" y1="262.20" x2="181.70" y2="254.70" stroke="#7d9090" stroke-width="1"/>
<line x1="201.70" y1="262.20" x2="201.70" y2="254.70" stroke="#7d9090" stroke-width="1"/>
<line x1="221.70" y1="262.20" x2="221.70" y2="254.70" stroke="#7d9090" stroke-width="1"/>
<line x1="241.70" y1="262.20" x2="241.70" y2="254.70" stroke="#7d9090" stroke-width="1"/>
<line x1="281.70" y1="262.20" x2="281.70" y2="254.70" stroke="#7d9090" stroke-width="1"/>
<line x1="301.70" y1="262.20" x2="301.70" y2="254.70" stroke="#7d9090" stroke-width="1"/>
<line x1="321.70" y1="262.20" x2="321.70" y2="254.70" stroke="#7d9090" stroke-width="1"/>
<line x1="341.70" y1="262.20" x2="341.70" y2="254.70" stroke="#7d9090" stroke-width="1"/>
<line x1="381.70" y1="262.20" x2="381.70" y2="254.70" stroke="#7d9090" stroke-width="1"/>
<line x1="401.70" y1="262.20" x2="401.70" y2="254.70" stroke="#7d9090" stroke-width="1"/>
<line x1="421.70" y1="262.20" x2="421.70" y2="254.70" stroke="#7d9090" stroke-width="1"/>
<line x1="441.70" y1="262.20" x2="441.70" y2="254.70" stroke="#7d9090" stroke-width="1"/>
<line x1="481.70" y1="262.20" x2="481.70" y2="254.70" stroke="#7d9090" stroke-width="1"/>
<line x1="501.70" y1="262.20" x2="501.70" y2="254.70" stroke="#7d9090" stroke-width="1"/>
<line x1="521.70" y1="262.20" x2="521.70" y2="254.70" stroke="#7d9090" stroke-width="1"/>
<line x1="541.70" y1="262.20" x2="541.70" y2="254.70" stroke="#7d9090" stroke-width="1"/>
<line x1="61.70" y1="239.80" x2="68.70" y2="239.80" stroke="#7d9090" stroke-width="1"/>
<line x1="61.70" y1="217.40" x2="68.70" y2="217.40" stroke="#7d9090" stroke-width="1"/>
<line x1="61.70" y1="195.00" x2="68.70" y2="195.00" stroke="#7d9090" stroke-width="1"/>
<line x1="61.70" y1="172.60" x2="68.70" y2="172.60" stroke="#7d9090" stroke-width="1"/>
<line x1="61.70" y1="127.80" x2="68.70" y2="127.80" stroke="#7d9090" stroke-width="1"/>
<line x1="61.70" y1="105.40" x2="68.70" y2="105.40" stroke="#7d9090" stroke-width="1"/>
<line x1="61.70" y1="83.00" x2="68.70" y2="83.00" stroke="#7d9090" stroke-width="1"/>
<line x1="61.70" y1="60.60" x2="68.70" y2="60.60" stroke="#7d9090" stroke-width="1"/>
<line x1="161.70" y1="262.20" x2="161.70" y2="249.40" stroke="#000" stroke-width="2.7"/>
<line x1="261.70" y1="262.20" x2="261.70" y2="249.40" stroke="#000" stroke-width="2.7"/>
<line x1="361.70" y1="262.20" x2="361.70" y2="249.40" stroke="#000" stroke-width="2.7"/>
<line x1="461.70" y1="262.20" x2="461.70" y2="249.40" stroke="#000" stroke-width="2.7"/>
<line x1="561.70" y1="262.20" x2="561.70" y2="249.40" stroke="#000" stroke-width="2.7"/>
<line x1="61.70" y1="38.20" x2="73.70" y2="38.20" stroke="#000" stroke-width="2.7"/>
<line x1="61.70" y1="150.20" x2="73.70" y2="150.20" stroke="#000" stroke-width="2.7"/>
<path d="M61.70,28.00 V262.20 H563.05" fill="none" stroke="#000" stroke-width="2.7" stroke-linejoin="miter"/>
<text x="61.70" y="284.10" font-family="Liberation Sans, Arial, Helvetica, sans-serif" font-size="19.6" text-anchor="middle" fill="#000" stroke="#000" stroke-width="0.35" transform="matrix(0.875,0,0,1,7.713,0)" >0</text>
<text x="161.70" y="284.10" font-family="Liberation Sans, Arial, Helvetica, sans-serif" font-size="19.6" text-anchor="middle" fill="#000" stroke="#000" stroke-width="0.35" transform="matrix(0.875,0,0,1,20.212,0)" >100</text><g transform="matrix(0.875,0,0,1,20.212,0)"><rect x="145.54" y="281.84" width="4.31" height="3.26" fill="#fff"/><rect x="152.44" y="281.84" width="4.16" height="3.26" fill="#fff"/></g>
<text x="261.70" y="284.10" font-family="Liberation Sans, Arial, Helvetica, sans-serif" font-size="19.6" text-anchor="middle" fill="#000" stroke="#000" stroke-width="0.35" transform="matrix(0.875,0,0,1,32.712,0)" >200</text>
<text x="361.70" y="284.10" font-family="Liberation Sans, Arial, Helvetica, sans-serif" font-size="19.6" text-anchor="middle" fill="#000" stroke="#000" stroke-width="0.35" transform="matrix(0.875,0,0,1,45.212,0)" >300</text>
<text x="461.70" y="284.10" font-family="Liberation Sans, Arial, Helvetica, sans-serif" font-size="19.6" text-anchor="middle" fill="#000" stroke="#000" stroke-width="0.35" transform="matrix(0.875,0,0,1,57.712,0)" >400</text>
<text x="561.70" y="284.10" font-family="Liberation Sans, Arial, Helvetica, sans-serif" font-size="19.6" text-anchor="middle" fill="#000" stroke="#000" stroke-width="0.35" transform="matrix(0.875,0,0,1,70.213,0)" >500</text>
<text x="54.40" y="45.15" font-family="Liberation Sans, Arial, Helvetica, sans-serif" font-size="19.6" text-anchor="end" fill="#000" stroke="#000" stroke-width="0.35" transform="matrix(0.875,0,0,1,6.800,0)" >100</text><g transform="matrix(0.875,0,0,1,6.800,0)"><rect x="21.89" y="42.89" width="4.31" height="3.26" fill="#fff"/><rect x="28.78" y="42.89" width="4.16" height="3.26" fill="#fff"/></g>
<text x="54.40" y="157.15" font-family="Liberation Sans, Arial, Helvetica, sans-serif" font-size="19.6" text-anchor="end" fill="#000" stroke="#000" stroke-width="0.35" transform="matrix(0.875,0,0,1,6.800,0)" >0</text>
<text x="54.40" y="269.60" font-family="Liberation Sans, Arial, Helvetica, sans-serif" font-size="19.6" text-anchor="end" fill="#000" stroke="#000" stroke-width="0.35" transform="matrix(0.875,0,0,1,6.800,0)" ><tspan dy="0.8">-</tspan><tspan dx="1.30" dy="-0.8">100</tspan></text><g transform="matrix(0.875,0,0,1,6.800,0)"><rect x="21.89" y="267.34" width="4.31" height="3.26" fill="#fff"/><rect x="28.78" y="267.34" width="4.16" height="3.26" fill="#fff"/></g>
<rect x="181.70" y="49.90" width="210.00" height="53.60" fill="#fff" stroke="#627474" stroke-width="1.1"/>
<rect x="227.30" y="54.00" width="15.12" height="25.40" fill="#57c1fc"/>
<rect x="242.37" y="54.00" width="30.19" height="25.40" fill="#70fc74"/>
<rect x="272.51" y="54.00" width="30.19" height="25.40" fill="#5cfa00"/>
<rect x="302.65" y="54.00" width="30.19" height="25.40" fill="#a8f800"/>
<rect x="332.79" y="54.00" width="30.19" height="25.40" fill="#ffa000"/>
<rect x="362.93" y="54.00" width="15.12" height="25.40" fill="#ff1208"/>
<text x="199.30" y="99.60" font-family="Liberation Sans, Arial, Helvetica, sans-serif" font-size="16.0" text-anchor="start" fill="#000" stroke="#000" stroke-width="0.35" transform="matrix(0.91,0,0,1,17.937,0)" letter-spacing="0.7">c1:</text><g transform="matrix(0.91,0,0,1,17.937,0)"><rect x="207.92" y="97.60" width="3.68" height="3.00" fill="#fff"/><rect x="213.86" y="97.60" width="3.55" height="3.00" fill="#fff"/></g>
<text x="242.37" y="99.60" font-family="Liberation Sans, Arial, Helvetica, sans-serif" font-size="16.0" text-anchor="middle" fill="#000" stroke="#000" stroke-width="0.35" transform="matrix(0.91,0,0,1,21.813,0)" >50</text>
<text x="272.51" y="99.60" font-family="Liberation Sans, Arial, Helvetica, sans-serif" font-size="16.0" text-anchor="middle" fill="#000" stroke="#000" stroke-width="0.35" transform="matrix(0.91,0,0,1,24.526,0)" >100</text><g transform="matrix(0.91,0,0,1,24.526,0)"><rect x="259.08" y="97.60" width="3.68" height="3.00" fill="#fff"/><rect x="265.02" y="97.60" width="3.55" height="3.00" fill="#fff"/></g>
<text x="302.65" y="99.60" font-family="Liberation Sans, Arial, Helvetica, sans-serif" font-size="16.0" text-anchor="middle" fill="#000" stroke="#000" stroke-width="0.35" transform="matrix(0.91,0,0,1,27.238,0)" >200</text>
<text x="332.79" y="99.60" font-family="Liberation Sans, Arial, Helvetica, sans-serif" font-size="16.0" text-anchor="middle" fill="#000" stroke="#000" stroke-width="0.35" transform="matrix(0.91,0,0,1,29.951,0)" >500</text>
<text x="362.93" y="99.60" font-family="Liberation Sans, Arial, Helvetica, sans-serif" font-size="16.0" text-anchor="middle" fill="#000" stroke="#000" stroke-width="0.35" transform="matrix(0.91,0,0,1,32.664,0)" >800</text>
<rect x="443.40" y="39.30" width="129.20" height="68.60" fill="#fff" stroke="#1a2626" stroke-width="1.5"/>
<text x="508.10" y="89.80" font-family="Liberation Sans, Arial, Helvetica, sans-serif" font-size="45.5" text-anchor="middle" fill="#000" stroke="#000" stroke-width="0.2" transform="matrix(0.975,0,0,1,12.703,0)" >2008</text></g>
<g id="p2"><path d="M61.0,407.2 L63.0,407.2 L65.0,407.2 L67.0,407.2 L69.0,407.2 L71.0,407.2 L73.0,407.2 L75.0,406.6 L77.0,405.9 L79.0,405.4 L81.0,405.2 L83.0,405.1 L85.0,404.9 L87.0,404.8 L89.0,404.8 L91.0,404.7 L93.0,404.6 L95.0,404.6 L97.0,404.5 L99.0,404.4 L101.0,404.4 L103.0,404.3 L105.0,404.2 L107.0,404.2 L109.0,404.1 L111.0,404.0 L113.0,404.0 L115.0,403.9 L117.0,403.9 L119.0,403.8 L121.0,403.7 L123.0,403.7 L125.0,403.6 L127.0,403.5 L129.0,403.4 L131.0,403.2 L133.0,403.0 L135.0,402.7 L137.0,402.4 L139.0,402.0 L141.0,401.6 L143.0,401.2 L145.0,400.8 L147.0,400.4 L149.0,400.1 L151.0,399.7 L153.0,399.4 L155.0,399.1 L157.0,398.8 L159.0,398.5 L161.0,398.3 L163.0,398.0 L165.0,397.7 L167.0,397.4 L169.0,397.1 L171.0,396.9 L173.0,396.6 L175.0,396.3 L177.0,396.1 L179.0,395.8 L181.0,395.6 L183.0,395.3 L185.0,395.1 L187.0,394.9 L189.0,394.6 L191.0,394.4 L193.0,394.2 L195.0,394.0 L197.0,393.8 L199.0,393.6 L201.0,393.4 L203.0,393.2 L205.0,393.0 L207.0,392.8 L209.0,392.6 L211.0,392.4 L213.0,392.2 L215.0,392.1 L217.0,391.9 L219.0,391.7 L221.0,391.6 L223.0,391.4 L225.0,391.3 L227.0,391.1 L229.0,391.0 L231.0,390.8 L233.0,390.7 L235.0,390.5 L237.0,390.4 L239.0,390.3 L241.0,390.1 L243.0,390.0 L245.0,389.8 L247.0,389.7 L249.0,389.6 L251.0,389.4 L253.0,389.3 L255.0,389.2 L257.0,389.1 L259.0,389.0 L261.0,388.8 L263.0,388.7 L265.0,388.6 L267.0,388.5 L269.0,388.4 L271.0,388.3 L273.0,388.2 L275.0,388.1 L277.0,388.0 L279.0,387.9 L281.0,387.8 L283.0,387.7 L285.0,387.6 L287.0,387.5 L289.0,387.4 L291.0,387.3 L293.0,387.3 L295.0,387.2 L297.0,387.1 L299.0,387.1 L301.0,387.0 L303.0,386.9 L305.0,386.9 L307.0,386.8 L309.0,386.8 L311.0,386.7 L313.0,386.7 L315.0,386.6 L317.0,386.6 L319.0,386.6 L321.0,386.5 L323.0,386.5 L325.0,386.5 L327.0,386.4 L329.0,386.4 L331.0,386.4 L333.0,386.4 L335.0,386.3 L337.0,386.3 L339.0,386.3 L341.0,386.3 L343.0,386.3 L345.0,386.2 L347.0,386.2 L349.0,386.2 L351.0,386.2 L353.0,386.2 L355.0,386.2 L357.0,386.2 L359.0,386.2 L361.0,386.2 L363.0,386.3 L365.0,386.3 L367.0,386.3 L369.0,386.4 L371.0,386.4 L373.0,386.5 L375.0,386.5 L377.0,386.6 L379.0,386.7 L381.0,386.7 L383.0,386.8 L385.0,386.8 L387.0,386.9 L389.0,387.0 L391.0,387.0 L393.0,387.1 L395.0,387.2 L397.0,387.3 L399.0,387.4 L401.0,387.5 L403.0,387.6 L405.0,387.7 L407.0,387.8 L409.0,388.0 L411.0,388.1 L413.0,388.2 L415.0,388.4 L417.0,388.6 L419.0,388.7 L421.0,388.9 L423.0,389.0 L425.0,389.2 L427.0,389.4 L429.0,389.6 L431.0,389.7 L433.0,389.9 L435.0,390.1 L437.0,390.3 L439.0,390.5 L441.0,390.7 L443.0,390.9 L445.0,391.1 L447.0,391.4 L449.0,391.6 L451.0,391.9 L453.0,392.1 L455.0,392.4 L457.0,392.7 L459.0,393.0 L461.0,393.3 L463.0,393.7 L465.0,394.0 L467.0,394.4 L469.0,394.8 L471.0,395.2 L473.0,395.6 L475.0,396.1 L477.0,396.6 L479.0,397.1 L481.0,397.6 L483.0,398.1 L485.0,398.6 L487.0,399.1 L489.0,399.6 L491.0,400.2 L493.0,400.8 L495.0,401.3 L497.0,402.0 L499.0,402.6 L501.0,403.4 L503.0,404.2 L505.0,405.2 L507.0,406.2 L509.0,407.2 L511.0,408.4 L513.0,409.7 L513.8,410.3 L514.2,410.6 L514.7,410.9 L515.1,411.3 L515.5,411.7 L515.9,412.2 L516.4,412.8 L516.8,414.2 L516.4,415.6 L515.9,416.2 L515.5,416.7 L515.1,417.1 L514.7,417.5 L514.2,417.8 L513.8,418.1 L513.0,418.7 L511.0,420.0 L509.0,421.2 L507.0,422.2 L505.0,423.2 L503.0,424.2 L501.0,425.0 L499.0,425.8 L497.0,426.4 L495.0,427.1 L493.0,427.6 L491.0,428.2 L489.0,428.8 L487.0,429.3 L485.0,429.8 L483.0,430.3 L481.0,430.8 L479.0,431.3 L477.0,431.8 L475.0,432.3 L473.0,432.8 L471.0,433.2 L469.0,433.6 L467.0,434.0 L465.0,434.4 L463.0,434.7 L461.0,435.1 L459.0,435.4 L457.0,435.7 L455.0,436.0 L453.0,436.3 L451.0,436.5 L449.0,436.8 L447.0,437.0 L445.0,437.3 L443.0,437.5 L441.0,437.7 L439.0,437.9 L437.0,438.1 L435.0,438.3 L433.0,438.5 L431.0,438.7 L429.0,438.8 L427.0,439.0 L425.0,439.2 L423.0,439.4 L421.0,439.5 L419.0,439.7 L417.0,439.8 L415.0,440.0 L413.0,440.2 L411.0,440.3 L409.0,440.4 L407.0,440.6 L405.0,440.7 L403.0,440.8 L401.0,440.9 L399.0,441.0 L397.0,441.1 L395.0,441.2 L393.0,441.3 L391.0,441.4 L389.0,441.4 L387.0,441.5 L385.0,441.6 L383.0,441.6 L381.0,441.7 L379.0,441.7 L377.0,441.8 L375.0,441.9 L373.0,441.9 L371.0,442.0 L369.0,442.0 L367.0,442.1 L365.0,442.1 L363.0,442.1 L361.0,442.2 L359.0,442.2 L357.0,442.2 L355.0,442.2 L353.0,442.2 L351.0,442.2 L349.0,442.2 L347.0,442.2 L345.0,442.2 L343.0,442.1 L341.0,442.1 L339.0,442.1 L337.0,442.1 L335.0,442.1 L333.0,442.0 L331.0,442.0 L329.0,442.0 L327.0,442.0 L325.0,441.9 L323.0,441.9 L321.0,441.9 L319.0,441.8 L317.0,441.8 L315.0,441.8 L313.0,441.7 L311.0,441.7 L309.0,441.6 L307.0,441.6 L305.0,441.5 L303.0,441.5 L301.0,441.4 L299.0,441.3 L297.0,441.3 L295.0,441.2 L293.0,441.1 L291.0,441.1 L289.0,441.0 L287.0,440.9 L285.0,440.8 L283.0,440.7 L281.0,440.6 L279.0,440.5 L277.0,440.4 L275.0,440.3 L273.0,440.2 L271.0,440.1 L269.0,440.0 L267.0,439.9 L265.0,439.8 L263.0,439.7 L261.0,439.6 L259.0,439.4 L257.0,439.3 L255.0,439.2 L253.0,439.1 L251.0,439.0 L249.0,438.8 L247.0,438.7 L245.0,438.6 L243.0,438.4 L241.0,438.3 L239.0,438.1 L237.0,438.0 L235.0,437.9 L233.0,437.7 L231.0,437.6 L229.0,437.4 L227.0,437.3 L225.0,437.1 L223.0,437.0 L221.0,436.8 L219.0,436.7 L217.0,436.5 L215.0,436.3 L213.0,436.2 L211.0,436.0 L209.0,435.8 L207.0,435.6 L205.0,435.4 L203.0,435.2 L201.0,435.0 L199.0,434.8 L197.0,434.6 L195.0,434.4 L193.0,434.2 L191.0,434.0 L189.0,433.8 L187.0,433.5 L185.0,433.3 L183.0,433.1 L181.0,432.8 L179.0,432.6 L177.0,432.3 L175.0,432.1 L173.0,431.8 L171.0,431.5 L169.0,431.3 L167.0,431.0 L165.0,430.7 L163.0,430.4 L161.0,430.1 L159.0,429.9 L157.0,429.6 L155.0,429.3 L153.0,429.0 L151.0,428.7 L149.0,428.3 L147.0,428.0 L145.0,427.6 L143.0,427.2 L141.0,426.8 L139.0,426.4 L137.0,426.0 L135.0,425.7 L133.0,425.4 L131.0,425.2 L129.0,425.0 L127.0,424.9 L125.0,424.8 L123.0,424.7 L121.0,424.7 L119.0,424.6 L117.0,424.5 L115.0,424.5 L113.0,424.4 L111.0,424.4 L109.0,424.3 L107.0,424.2 L105.0,424.2 L103.0,424.1 L101.0,424.0 L99.0,424.0 L97.0,423.9 L95.0,423.8 L93.0,423.8 L91.0,423.7 L89.0,423.6 L87.0,423.6 L85.0,423.5 L83.0,423.3 L81.0,423.2 L79.0,423.0 L77.0,422.5 L75.0,421.8 L73.0,421.2 L71.0,421.2 L69.0,421.2 L67.0,421.2 L65.0,421.2 L63.0,421.2 L61.0,421.2Z" fill="#4fb9f6"/>
<path d="M61.0,407.2 L63.0,407.2 L65.0,407.2 L67.0,407.2 L69.0,407.2 L71.0,407.2 L73.0,407.2 L75.0,406.6 L77.0,405.9 L79.0,405.4 L81.0,405.2 L83.0,405.1 L85.0,404.9 L87.0,404.8 L89.0,404.8 L91.0,404.7 L93.0,404.6 L95.0,404.6 L97.0,404.5 L99.0,404.4 L101.0,404.4 L103.0,404.3 L105.0,404.2 L107.0,404.2 L109.0,404.1 L111.0,404.0 L113.0,404.0 L115.0,403.9 L117.0,403.9 L119.0,403.8 L121.0,403.7 L123.0,403.7 L125.0,403.6 L127.0,403.5 L129.0,403.4 L131.0,403.2 L133.0,403.0 L135.0,402.7 L137.0,402.4 L139.0,402.0 L141.0,401.6 L143.0,401.2 L145.0,400.8 L147.0,400.4 L149.0,400.1 L151.0,399.7 L153.0,399.4 L155.0,399.1 L157.0,398.8 L159.0,398.5 L161.0,398.3 L163.0,398.0 L165.0,397.7 L167.0,397.4 L169.0,397.1 L171.0,396.9 L173.0,396.6 L175.0,396.3 L177.0,396.1 L179.0,395.8 L181.0,395.6 L183.0,395.3 L185.0,395.1 L187.0,394.9 L189.0,394.6 L191.0,394.4 L193.0,394.2 L195.0,394.0 L197.0,393.8 L199.0,393.6 L201.0,393.4 L203.0,393.2 L205.0,393.0 L207.0,392.8 L209.0,392.6 L211.0,392.4 L213.0,392.2 L215.0,392.1 L217.0,391.9 L219.0,391.7 L221.0,391.6 L223.0,391.4 L225.0,391.3 L227.0,391.1 L229.0,391.0 L231.0,390.8 L233.0,390.7 L235.0,390.5 L237.0,390.4 L239.0,390.3 L241.0,390.1 L243.0,390.0 L245.0,389.8 L247.0,389.7 L249.0,389.6 L251.0,389.4 L253.0,389.3 L255.0,389.2 L257.0,389.1 L259.0,389.0 L261.0,388.8 L263.0,388.7 L265.0,388.6 L267.0,388.5 L269.0,388.4 L271.0,388.3 L273.0,388.2 L275.0,388.1 L277.0,388.0 L279.0,387.9 L281.0,387.8 L283.0,387.7 L285.0,387.6 L287.0,387.5 L289.0,387.4 L291.0,387.3 L293.0,387.3 L295.0,387.2 L297.0,387.1 L299.0,387.1 L301.0,387.0 L303.0,386.9 L305.0,386.9 L307.0,386.8 L309.0,386.8 L311.0,386.7 L313.0,386.7 L315.0,386.6 L317.0,386.6 L319.0,386.6 L321.0,386.5 L323.0,386.5 L325.0,386.5 L327.0,386.4 L329.0,386.4 L331.0,386.4 L333.0,386.4 L335.0,386.3 L337.0,386.3 L339.0,386.3 L341.0,386.3 L343.0,386.3 L345.0,386.2 L347.0,386.2 L349.0,386.2 L351.0,386.2 L353.0,386.2 L355.0,386.2 L357.0,386.2 L359.0,386.2 L361.0,386.2 L363.0,386.3 L365.0,386.3 L367.0,386.3 L369.0,386.4 L371.0,386.4 L373.0,386.5 L375.0,386.5 L377.0,386.6 L379.0,386.7 L381.0,386.7 L383.0,386.8 L385.0,386.8 L387.0,386.9 L389.0,387.0 L391.0,387.0 L393.0,387.1 L395.0,387.2 L397.0,387.3 L399.0,387.4 L401.0,387.5 L403.0,387.6 L405.0,387.7 L407.0,387.8 L409.0,388.0 L411.0,388.1 L413.0,388.2 L415.0,388.4 L417.0,388.6 L419.0,388.7 L421.0,388.9 L423.0,389.0 L425.0,389.2 L427.0,389.4 L429.0,389.6 L431.0,389.7 L433.0,389.9 L435.0,390.1 L437.0,390.3 L439.0,390.5 L441.0,390.7 L443.0,390.9 L445.0,391.1 L447.0,391.4 L449.0,391.6 L451.0,391.9 L453.0,392.1 L455.0,392.4 L457.0,392.7 L459.0,393.0 L461.0,393.3 L463.0,393.7 L465.0,394.0 L467.0,394.4 L469.0,394.8 L471.0,395.2 L473.0,395.6 L475.0,396.1 L477.0,396.6 L479.0,397.1 L481.0,397.6 L483.0,398.1 L485.0,398.6 L487.0,399.1 L489.0,399.6 L491.0,400.2 L493.0,400.8 L495.0,401.3 L497.0,402.0 L499.0,402.6 L501.0,403.4 L503.0,404.2 L505.0,405.2 L507.0,406.2 L509.0,407.2 L511.0,408.4 L513.0,409.7 L513.8,410.3 L514.2,410.6 L514.7,410.9 L515.1,411.3 L515.5,411.7 L515.9,412.2 L516.4,412.8 L516.8,414.2 L516.4,415.6 L515.9,416.2 L515.5,416.7 L515.1,417.1 L514.7,417.5 L514.2,417.8 L513.8,418.1 L513.0,418.7 L511.0,420.0 L509.0,421.2 L507.0,422.2 L505.0,423.2 L503.0,424.2 L501.0,425.0 L499.0,425.8 L497.0,426.4 L495.0,427.1 L493.0,427.6 L491.0,428.2 L489.0,428.8 L487.0,429.3 L485.0,429.8 L483.0,430.3 L481.0,430.8 L479.0,431.3 L477.0,431.8 L475.0,432.3 L473.0,432.8 L471.0,433.2 L469.0,433.6 L467.0,434.0 L465.0,434.4 L463.0,434.7 L461.0,435.1 L459.0,435.4 L457.0,435.7 L455.0,436.0 L453.0,436.3 L451.0,436.5 L449.0,436.8 L447.0,437.0 L445.0,437.3 L443.0,437.5 L441.0,437.7 L439.0,437.9 L437.0,438.1 L435.0,438.3 L433.0,438.5 L431.0,438.7 L429.0,438.8 L427.0,439.0 L425.0,439.2 L423.0,439.4 L421.0,439.5 L419.0,439.7 L417.0,439.8 L415.0,440.0 L413.0,440.2 L411.0,440.3 L409.0,440.4 L407.0,440.6 L405.0,440.7 L403.0,440.8 L401.0,440.9 L399.0,441.0 L397.0,441.1 L395.0,441.2 L393.0,441.3 L391.0,441.4 L389.0,441.4 L387.0,441.5 L385.0,441.6 L383.0,441.6 L381.0,441.7 L379.0,441.7 L377.0,441.8 L375.0,441.9 L373.0,441.9 L371.0,442.0 L369.0,442.0 L367.0,442.1 L365.0,442.1 L363.0,442.1 L361.0,442.2 L359.0,442.2 L357.0,442.2 L355.0,442.2 L353.0,442.2 L351.0,442.2 L349.0,442.2 L347.0,442.2 L345.0,442.2 L343.0,442.1 L341.0,442.1 L339.0,442.1 L337.0,442.1 L335.0,442.1 L333.0,442.0 L331.0,442.0 L329.0,442.0 L327.0,442.0 L325.0,441.9 L323.0,441.9 L321.0,441.9 L319.0,441.8 L317.0,441.8 L315.0,441.8 L313.0,441.7 L311.0,441.7 L309.0,441.6 L307.0,441.6 L305.0,441.5 L303.0,441.5 L301.0,441.4 L299.0,441.3 L297.0,441.3 L295.0,441.2 L293.0,441.1 L291.0,441.1 L289.0,441.0 L287.0,440.9 L285.0,440.8 L283.0,440.7 L281.0,440.6 L279.0,440.5 L277.0,440.4 L275.0,440.3 L273.0,440.2 L271.0,440.1 L269.0,440.0 L267.0,439.9 L265.0,439.8 L263.0,439.7 L261.0,439.6 L259.0,439.4 L257.0,439.3 L255.0,439.2 L253.0,439.1 L251.0,439.0 L249.0,438.8 L247.0,438.7 L245.0,438.6 L243.0,438.4 L241.0,438.3 L239.0,438.1 L237.0,438.0 L235.0,437.9 L233.0,437.7 L231.0,437.6 L229.0,437.4 L227.0,437.3 L225.0,437.1 L223.0,437.0 L221.0,436.8 L219.0,436.7 L217.0,436.5 L215.0,436.3 L213.0,436.2 L211.0,436.0 L209.0,435.8 L207.0,435.6 L205.0,435.4 L203.0,435.2 L201.0,435.0 L199.0,434.8 L197.0,434.6 L195.0,434.4 L193.0,434.2 L191.0,434.0 L189.0,433.8 L187.0,433.5 L185.0,433.3 L183.0,433.1 L181.0,432.8 L179.0,432.6 L177.0,432.3 L175.0,432.1 L173.0,431.8 L171.0,431.5 L169.0,431.3 L167.0,431.0 L165.0,430.7 L163.0,430.4 L161.0,430.1 L159.0,429.9 L157.0,429.6 L155.0,429.3 L153.0,429.0 L151.0,428.7 L149.0,428.3 L147.0,428.0 L145.0,427.6 L143.0,427.2 L141.0,426.8 L139.0,426.4 L137.0,426.0 L135.0,425.7 L133.0,425.4 L131.0,425.2 L129.0,425.0 L127.0,424.9 L125.0,424.8 L123.0,424.7 L121.0,424.7 L119.0,424.6 L117.0,424.5 L115.0,424.5 L113.0,424.4 L111.0,424.4 L109.0,424.3 L107.0,424.2 L105.0,424.2 L103.0,424.1 L101.0,424.0 L99.0,424.0 L97.0,423.9 L95.0,423.8 L93.0,423.8 L91.0,423.7 L89.0,423.6 L87.0,423.6 L85.0,423.5 L83.0,423.3 L81.0,423.2 L79.0,423.0 L77.0,422.5 L75.0,421.8 L73.0,421.2 L71.0,421.2 L69.0,421.2 L67.0,421.2 L65.0,421.2 L63.0,421.2 L61.0,421.2Z" fill="url(#mesh_p2)"/>
<path d="M61.0,409.2 L63.0,409.2 L65.0,409.2 L67.0,409.3 L69.0,409.3 L71.0,409.3 L73.0,409.3 L75.0,409.4 L77.0,409.4 L79.0,409.4 L81.0,409.5 L83.0,409.5 L85.0,409.6 L87.0,409.6 L89.0,409.7 L91.0,409.7 L93.0,409.8 L95.0,409.8 L97.0,409.9 L99.0,409.9 L101.0,410.0 L103.0,410.1 L105.0,410.2 L107.0,410.3 L109.0,410.4 L111.0,410.5 L113.0,410.7 L115.0,410.8 L117.0,410.8 L119.0,410.9 L121.0,410.9 L123.0,410.8 L125.0,410.7 L127.0,410.5 L129.0,410.3 L131.0,410.1 L133.0,409.8 L135.0,409.3 L137.0,408.9 L139.0,408.4 L141.0,407.9 L143.0,407.3 L145.0,406.6 L147.0,405.9 L149.0,405.4 L151.0,405.0 L153.0,404.7 L155.0,404.5 L157.0,404.3 L159.0,404.1 L161.0,403.9 L163.0,403.8 L165.0,403.7 L167.0,403.5 L169.0,403.4 L171.0,403.3 L173.0,403.2 L175.0,403.1 L177.0,403.1 L179.0,403.0 L181.0,402.9 L183.0,402.9 L185.0,402.8 L187.0,402.7 L189.0,402.7 L191.0,402.6 L193.0,402.6 L195.0,402.5 L197.0,402.5 L199.0,402.5 L201.0,402.4 L203.0,402.4 L205.0,402.3 L207.0,402.3 L209.0,402.2 L211.0,402.2 L213.0,402.1 L215.0,402.1 L217.0,402.0 L219.0,401.9 L221.0,401.9 L223.0,401.8 L225.0,401.8 L227.0,401.7 L229.0,401.7 L231.0,401.7 L233.0,401.7 L235.0,401.7 L237.0,401.8 L239.0,401.8 L241.0,401.9 L243.0,401.9 L245.0,402.0 L247.0,402.1 L249.0,402.2 L251.0,402.2 L253.0,402.3 L255.0,402.5 L257.0,402.6 L259.0,402.8 L261.0,403.0 L263.0,403.2 L265.0,403.4 L267.0,403.6 L269.0,403.9 L271.0,404.1 L273.0,404.4 L275.0,404.7 L277.0,405.0 L279.0,405.4 L281.0,405.7 L283.0,406.1 L285.0,406.6 L287.0,407.0 L289.0,407.5 L291.0,408.1 L293.0,408.7 L295.0,409.5 L297.0,410.3 L299.0,411.1 L301.0,411.9 L301.4,412.1 L301.9,412.3 L302.3,412.5 L302.7,412.8 L303.1,413.1 L303.6,413.4 L304.0,414.2 L303.6,415.0 L303.1,415.3 L302.7,415.6 L302.3,415.9 L301.9,416.1 L301.4,416.3 L301.0,416.5 L299.0,417.3 L297.0,418.1 L295.0,418.9 L293.0,419.7 L291.0,420.3 L289.0,420.9 L287.0,421.4 L285.0,421.8 L283.0,422.3 L281.0,422.7 L279.0,423.0 L277.0,423.4 L275.0,423.7 L273.0,424.0 L271.0,424.3 L269.0,424.5 L267.0,424.8 L265.0,425.0 L263.0,425.2 L261.0,425.4 L259.0,425.6 L257.0,425.8 L255.0,425.9 L253.0,426.1 L251.0,426.2 L249.0,426.2 L247.0,426.3 L245.0,426.4 L243.0,426.5 L241.0,426.5 L239.0,426.6 L237.0,426.6 L235.0,426.7 L233.0,426.7 L231.0,426.7 L229.0,426.7 L227.0,426.7 L225.0,426.6 L223.0,426.6 L221.0,426.5 L219.0,426.5 L217.0,426.4 L215.0,426.3 L213.0,426.3 L211.0,426.2 L209.0,426.2 L207.0,426.1 L205.0,426.1 L203.0,426.0 L201.0,426.0 L199.0,425.9 L197.0,425.9 L195.0,425.9 L193.0,425.8 L191.0,425.8 L189.0,425.7 L187.0,425.7 L185.0,425.6 L183.0,425.5 L181.0,425.5 L179.0,425.4 L177.0,425.3 L175.0,425.3 L173.0,425.2 L171.0,425.1 L169.0,425.0 L167.0,424.9 L165.0,424.7 L163.0,424.6 L161.0,424.5 L159.0,424.3 L157.0,424.1 L155.0,423.9 L153.0,423.7 L151.0,423.4 L149.0,423.0 L147.0,422.5 L145.0,421.8 L143.0,421.1 L141.0,420.5 L139.0,420.0 L137.0,419.5 L135.0,419.1 L133.0,418.6 L131.0,418.3 L129.0,418.1 L127.0,417.9 L125.0,417.7 L123.0,417.6 L121.0,417.5 L119.0,417.5 L117.0,417.6 L115.0,417.6 L113.0,417.7 L111.0,417.9 L109.0,418.0 L107.0,418.1 L105.0,418.2 L103.0,418.3 L101.0,418.4 L99.0,418.5 L97.0,418.5 L95.0,418.6 L93.0,418.6 L91.0,418.7 L89.0,418.7 L87.0,418.8 L85.0,418.8 L83.0,418.9 L81.0,418.9 L79.0,419.0 L77.0,419.0 L75.0,419.0 L73.0,419.1 L71.0,419.1 L69.0,419.1 L67.0,419.1 L65.0,419.2 L63.0,419.2 L61.0,419.2Z" fill="#72fa7a"/>
<path d="M149.0,414.2 L151.0,412.4 L153.0,411.6 L155.0,410.8 L157.0,410.2 L159.0,409.6 L161.0,409.2 L163.0,408.8 L165.0,408.4 L167.0,408.1 L169.0,407.7 L171.0,407.5 L173.0,407.2 L175.0,406.9 L177.0,406.7 L179.0,406.5 L181.0,406.3 L183.0,406.2 L185.0,406.1 L187.0,406.0 L189.0,405.9 L191.0,405.9 L193.0,405.8 L195.0,405.8 L197.0,405.7 L199.0,405.7 L201.0,405.7 L203.0,405.7 L205.0,405.7 L207.0,405.7 L209.0,405.8 L211.0,405.8 L213.0,405.9 L215.0,405.9 L217.0,406.0 L219.0,406.1 L221.0,406.2 L223.0,406.4 L225.0,406.6 L227.0,406.9 L229.0,407.1 L231.0,407.3 L233.0,407.6 L235.0,407.8 L237.0,408.1 L239.0,408.5 L241.0,409.0 L243.0,409.6 L245.0,410.5 L247.0,411.4 L247.4,411.6 L247.9,411.8 L248.3,412.1 L248.7,412.4 L249.1,412.7 L249.6,413.2 L250.0,414.2 L249.6,415.2 L249.1,415.7 L248.7,416.0 L248.3,416.3 L247.9,416.6 L247.4,416.8 L247.0,417.0 L245.0,417.9 L243.0,418.8 L241.0,419.4 L239.0,419.9 L237.0,420.3 L235.0,420.6 L233.0,420.8 L231.0,421.1 L229.0,421.3 L227.0,421.5 L225.0,421.8 L223.0,422.0 L221.0,422.2 L219.0,422.3 L217.0,422.4 L215.0,422.5 L213.0,422.5 L211.0,422.6 L209.0,422.6 L207.0,422.7 L205.0,422.7 L203.0,422.7 L201.0,422.7 L199.0,422.7 L197.0,422.7 L195.0,422.6 L193.0,422.6 L191.0,422.5 L189.0,422.5 L187.0,422.4 L185.0,422.3 L183.0,422.2 L181.0,422.1 L179.0,421.9 L177.0,421.7 L175.0,421.5 L173.0,421.2 L171.0,420.9 L169.0,420.7 L167.0,420.3 L165.0,420.0 L163.0,419.6 L161.0,419.2 L159.0,418.8 L157.0,418.2 L155.0,417.6 L153.0,416.8 L151.0,416.0Z" fill="#5cfa00"/>
<path d="M170.0,414.2 L172.0,412.9 L174.0,412.4 L176.0,412.0 L178.0,411.7 L180.0,411.4 L182.0,411.3 L184.0,411.3 L186.0,411.3 L188.0,411.4 L190.0,411.5 L192.0,411.7 L194.0,412.1 L195.5,412.4 L195.9,412.5 L196.4,412.7 L196.8,412.8 L197.2,413.0 L197.6,413.2 L198.1,413.5 L198.5,414.2 L198.1,414.9 L197.6,415.2 L197.2,415.4 L196.8,415.6 L196.4,415.7 L195.9,415.9 L195.5,416.0 L194.0,416.3 L192.0,416.7 L190.0,416.9 L188.0,417.0 L186.0,417.1 L184.0,417.1 L182.0,417.1 L180.0,417.0 L178.0,416.7 L176.0,416.4 L174.0,416.0 L172.0,415.5Z" fill="#a8f800"/>
<path d="M61.0,409.2 L63.0,409.2 L65.0,409.2 L67.0,409.3 L69.0,409.3 L71.0,409.3 L73.0,409.3 L75.0,409.4 L77.0,409.4 L79.0,409.4 L81.0,409.5 L83.0,409.5 L85.0,409.6 L87.0,409.6 L89.0,409.7 L91.0,409.7 L93.0,409.8 L95.0,409.8 L97.0,409.9 L99.0,409.9 L101.0,410.0 L103.0,410.1 L105.0,410.2 L107.0,410.3 L109.0,410.4 L111.0,410.5 L113.0,410.7 L115.0,410.8 L117.0,410.8 L119.0,410.9 L121.0,410.9 L123.0,410.8 L125.0,410.7 L127.0,410.5 L129.0,410.3 L131.0,410.1 L133.0,409.8 L135.0,409.3 L137.0,408.9 L139.0,408.4 L141.0,407.9 L143.0,407.3 L145.0,406.6 L147.0,405.9 L149.0,405.4 L151.0,405.0 L153.0,404.7 L155.0,404.5 L157.0,404.3 L159.0,404.1 L161.0,403.9 L163.0,403.8 L165.0,403.7 L167.0,403.5 L169.0,403.4 L171.0,403.3 L173.0,403.2 L175.0,403.1 L177.0,403.1 L179.0,403.0 L181.0,402.9 L183.0,402.9 L185.0,402.8 L187.0,402.7 L189.0,402.7 L191.0,402.6 L193.0,402.6 L195.0,402.5 L197.0,402.5 L199.0,402.5 L201.0,402.4 L203.0,402.4 L205.0,402.3 L207.0,402.3 L209.0,402.2 L211.0,402.2 L213.0,402.1 L215.0,402.1 L217.0,402.0 L219.0,401.9 L221.0,401.9 L223.0,401.8 L225.0,401.8 L227.0,401.7 L229.0,401.7 L231.0,401.7 L233.0,401.7 L235.0,401.7 L237.0,401.8 L239.0,401.8 L241.0,401.9 L243.0,401.9 L245.0,402.0 L247.0,402.1 L249.0,402.2 L251.0,402.2 L253.0,402.3 L255.0,402.5 L257.0,402.6 L259.0,402.8 L261.0,403.0 L263.0,403.2 L265.0,403.4 L267.0,403.6 L269.0,403.9 L271.0,404.1 L273.0,404.4 L275.0,404.7 L277.0,405.0 L279.0,405.4 L281.0,405.7 L283.0,406.1 L285.0,406.6 L287.0,407.0 L289.0,407.5 L291.0,408.1 L293.0,408.7 L295.0,409.5 L297.0,410.3 L299.0,411.1 L301.0,411.9 L301.4,412.1 L301.9,412.3 L302.3,412.5 L302.7,412.8 L303.1,413.1 L303.6,413.4 L304.0,414.2 L303.6,415.0 L303.1,415.3 L302.7,415.6 L302.3,415.9 L301.9,416.1 L301.4,416.3 L301.0,416.5 L299.0,417.3 L297.0,418.1 L295.0,418.9 L293.0,419.7 L291.0,420.3 L289.0,420.9 L287.0,421.4 L285.0,421.8 L283.0,422.3 L281.0,422.7 L279.0,423.0 L277.0,423.4 L275.0,423.7 L273.0,424.0 L271.0,424.3 L269.0,424.5 L267.0,424.8 L265.0,425.0 L263.0,425.2 L261.0,425.4 L259.0,425.6 L257.0,425.8 L255.0,425.9 L253.0,426.1 L251.0,426.2 L249.0,426.2 L247.0,426.3 L245.0,426.4 L243.0,426.5 L241.0,426.5 L239.0,426.6 L237.0,426.6 L235.0,426.7 L233.0,426.7 L231.0,426.7 L229.0,426.7 L227.0,426.7 L225.0,426.6 L223.0,426.6 L221.0,426.5 L219.0,426.5 L217.0,426.4 L215.0,426.3 L213.0,426.3 L211.0,426.2 L209.0,426.2 L207.0,426.1 L205.0,426.1 L203.0,426.0 L201.0,426.0 L199.0,425.9 L197.0,425.9 L195.0,425.9 L193.0,425.8 L191.0,425.8 L189.0,425.7 L187.0,425.7 L185.0,425.6 L183.0,425.5 L181.0,425.5 L179.0,425.4 L177.0,425.3 L175.0,425.3 L173.0,425.2 L171.0,425.1 L169.0,425.0 L167.0,424.9 L165.0,424.7 L163.0,424.6 L161.0,424.5 L159.0,424.3 L157.0,424.1 L155.0,423.9 L153.0,423.7 L151.0,423.4 L149.0,423.0 L147.0,422.5 L145.0,421.8 L143.0,421.1 L141.0,420.5 L139.0,420.0 L137.0,419.5 L135.0,419.1 L133.0,418.6 L131.0,418.3 L129.0,418.1 L127.0,417.9 L125.0,417.7 L123.0,417.6 L121.0,417.5 L119.0,417.5 L117.0,417.6 L115.0,417.6 L113.0,417.7 L111.0,417.9 L109.0,418.0 L107.0,418.1 L105.0,418.2 L103.0,418.3 L101.0,418.4 L99.0,418.5 L97.0,418.5 L95.0,418.6 L93.0,418.6 L91.0,418.7 L89.0,418.7 L87.0,418.8 L85.0,418.8 L83.0,418.9 L81.0,418.9 L79.0,419.0 L77.0,419.0 L75.0,419.0 L73.0,419.1 L71.0,419.1 L69.0,419.1 L67.0,419.1 L65.0,419.2 L63.0,419.2 L61.0,419.2Z" fill="url(#meshw_p2)"/>
<path d="M61.0,407.2 L63.0,407.2 L65.0,407.2 L67.0,407.2 L69.0,407.2 L71.0,407.2 L73.0,407.2 L75.0,406.6 L77.0,405.9 L79.0,405.4 L81.0,405.2 L83.0,405.1 L85.0,404.9 L87.0,404.8 L89.0,404.8 L91.0,404.7 L93.0,404.6 L95.0,404.6 L97.0,404.5 L99.0,404.4 L101.0,404.4 L103.0,404.3 L105.0,404.2 L107.0,404.2 L109.0,404.1 L111.0,404.0 L113.0,404.0 L115.0,403.9 L117.0,403.9 L119.0,403.8 L121.0,403.7 L123.0,403.7 L125.0,403.6 L127.0,403.5 L129.0,403.4 L131.0,403.2 L133.0,403.0 L135.0,402.7 L137.0,402.4 L139.0,402.0 L141.0,401.6 L143.0,401.2 L145.0,400.8 L147.0,400.4 L149.0,400.1 L151.0,399.7 L153.0,399.4 L155.0,399.1 L157.0,398.8 L159.0,398.5 L161.0,398.3 L163.0,398.0 L165.0,397.7 L167.0,397.4 L169.0,397.1 L171.0,396.9 L173.0,396.6 L175.0,396.3 L177.0,396.1 L179.0,395.8 L181.0,395.6 L183.0,395.3 L185.0,395.1 L187.0,394.9 L189.0,394.6 L191.0,394.4 L193.0,394.2 L195.0,394.0 L197.0,393.8 L199.0,393.6 L201.0,393.4 L203.0,393.2 L205.0,393.0 L207.0,392.8 L209.0,392.6 L211.0,392.4 L213.0,392.2 L215.0,392.1 L217.0,391.9 L219.0,391.7 L221.0,391.6 L223.0,391.4 L225.0,391.3 L227.0,391.1 L229.0,391.0 L231.0,390.8 L233.0,390.7 L235.0,390.5 L237.0,390.4 L239.0,390.3 L241.0,390.1 L243.0,390.0 L245.0,389.8 L247.0,389.7 L249.0,389.6 L251.0,389.4 L253.0,389.3 L255.0,389.2 L257.0,389.1 L259.0,389.0 L261.0,388.8 L263.0,388.7 L265.0,388.6 L267.0,388.5 L269.0,388.4 L271.0,388.3 L273.0,388.2 L275.0,388.1 L277.0,388.0 L279.0,387.9 L281.0,387.8 L283.0,387.7 L285.0,387.6 L287.0,387.5 L289.0,387.4 L291.0,387.3 L293.0,387.3 L295.0,387.2 L297.0,387.1 L299.0,387.1 L301.0,387.0 L303.0,386.9 L305.0,386.9 L307.0,386.8 L309.0,386.8 L311.0,386.7 L313.0,386.7 L315.0,386.6 L317.0,386.6 L319.0,386.6 L321.0,386.5 L323.0,386.5 L325.0,386.5 L327.0,386.4 L329.0,386.4 L331.0,386.4 L333.0,386.4 L335.0,386.3 L337.0,386.3 L339.0,386.3 L341.0,386.3 L343.0,386.3 L345.0,386.2 L347.0,386.2 L349.0,386.2 L351.0,386.2 L353.0,386.2 L355.0,386.2 L357.0,386.2 L359.0,386.2 L361.0,386.2 L363.0,386.3 L365.0,386.3 L367.0,386.3 L369.0,386.4 L371.0,386.4 L373.0,386.5 L375.0,386.5 L377.0,386.6 L379.0,386.7 L381.0,386.7 L383.0,386.8 L385.0,386.8 L387.0,386.9 L389.0,387.0 L391.0,387.0 L393.0,387.1 L395.0,387.2 L397.0,387.3 L399.0,387.4 L401.0,387.5 L403.0,387.6 L405.0,387.7 L407.0,387.8 L409.0,388.0 L411.0,388.1 L413.0,388.2 L415.0,388.4 L417.0,388.6 L419.0,388.7 L421.0,388.9 L423.0,389.0 L425.0,389.2 L427.0,389.4 L429.0,389.6 L431.0,389.7 L433.0,389.9 L435.0,390.1 L437.0,390.3 L439.0,390.5 L441.0,390.7 L443.0,390.9 L445.0,391.1 L447.0,391.4 L449.0,391.6 L451.0,391.9 L453.0,392.1 L455.0,392.4 L457.0,392.7 L459.0,393.0 L461.0,393.3 L463.0,393.7 L465.0,394.0 L467.0,394.4 L469.0,394.8 L471.0,395.2 L473.0,395.6 L475.0,396.1 L477.0,396.6 L479.0,397.1 L481.0,397.6 L483.0,398.1 L485.0,398.6 L487.0,399.1 L489.0,399.6 L491.0,400.2 L493.0,400.8 L495.0,401.3 L497.0,402.0 L499.0,402.6 L501.0,403.4 L503.0,404.2 L505.0,405.2 L507.0,406.2 L509.0,407.2 L511.0,408.4 L513.0,409.7 L513.8,410.3 L514.2,410.6 L514.7,410.9 L515.1,411.3 L515.5,411.7 L515.9,412.2 L516.4,412.8 L516.8,414.2 L516.4,415.6 L515.9,416.2 L515.5,416.7 L515.1,417.1 L514.7,417.5 L514.2,417.8 L513.8,418.1 L513.0,418.7 L511.0,420.0 L509.0,421.2 L507.0,422.2 L505.0,423.2 L503.0,424.2 L501.0,425.0 L499.0,425.8 L497.0,426.4 L495.0,427.1 L493.0,427.6 L491.0,428.2 L489.0,428.8 L487.0,429.3 L485.0,429.8 L483.0,430.3 L481.0,430.8 L479.0,431.3 L477.0,431.8 L475.0,432.3 L473.0,432.8 L471.0,433.2 L469.0,433.6 L467.0,434.0 L465.0,434.4 L463.0,434.7 L461.0,435.1 L459.0,435.4 L457.0,435.7 L455.0,436.0 L453.0,436.3 L451.0,436.5 L449.0,436.8 L447.0,437.0 L445.0,437.3 L443.0,437.5 L441.0,437.7 L439.0,437.9 L437.0,438.1 L435.0,438.3 L433.0,438.5 L431.0,438.7 L429.0,438.8 L427.0,439.0 L425.0,439.2 L423.0,439.4 L421.0,439.5 L419.0,439.7 L417.0,439.8 L415.0,440.0 L413.0,440.2 L411.0,440.3 L409.0,440.4 L407.0,440.6 L405.0,440.7 L403.0,440.8 L401.0,440.9 L399.0,441.0 L397.0,441.1 L395.0,441.2 L393.0,441.3 L391.0,441.4 L389.0,441.4 L387.0,441.5 L385.0,441.6 L383.0,441.6 L381.0,441.7 L379.0,441.7 L377.0,441.8 L375.0,441.9 L373.0,441.9 L371.0,442.0 L369.0,442.0 L367.0,442.1 L365.0,442.1 L363.0,442.1 L361.0,442.2 L359.0,442.2 L357.0,442.2 L355.0,442.2 L353.0,442.2 L351.0,442.2 L349.0,442.2 L347.0,442.2 L345.0,442.2 L343.0,442.1 L341.0,442.1 L339.0,442.1 L337.0,442.1 L335.0,442.1 L333.0,442.0 L331.0,442.0 L329.0,442.0 L327.0,442.0 L325.0,441.9 L323.0,441.9 L321.0,441.9 L319.0,441.8 L317.0,441.8 L315.0,441.8 L313.0,441.7 L311.0,441.7 L309.0,441.6 L307.0,441.6 L305.0,441.5 L303.0,441.5 L301.0,441.4 L299.0,441.3 L297.0,441.3 L295.0,441.2 L293.0,441.1 L291.0,441.1 L289.0,441.0 L287.0,440.9 L285.0,440.8 L283.0,440.7 L281.0,440.6 L279.0,440.5 L277.0,440.4 L275.0,440.3 L273.0,440.2 L271.0,440.1 L269.0,440.0 L267.0,439.9 L265.0,439.8 L263.0,439.7 L261.0,439.6 L259.0,439.4 L257.0,439.3 L255.0,439.2 L253.0,439.1 L251.0,439.0 L249.0,438.8 L247.0,438.7 L245.0,438.6 L243.0,438.4 L241.0,438.3 L239.0,438.1 L237.0,438.0 L235.0,437.9 L233.0,437.7 L231.0,437.6 L229.0,437.4 L227.0,437.3 L225.0,437.1 L223.0,437.0 L221.0,436.8 L219.0,436.7 L217.0,436.5 L215.0,436.3 L213.0,436.2 L211.0,436.0 L209.0,435.8 L207.0,435.6 L205.0,435.4 L203.0,435.2 L201.0,435.0 L199.0,434.8 L197.0,434.6 L195.0,434.4 L193.0,434.2 L191.0,434.0 L189.0,433.8 L187.0,433.5 L185.0,433.3 L183.0,433.1 L181.0,432.8 L179.0,432.6 L177.0,432.3 L175.0,432.1 L173.0,431.8 L171.0,431.5 L169.0,431.3 L167.0,431.0 L165.0,430.7 L163.0,430.4 L161.0,430.1 L159.0,429.9 L157.0,429.6 L155.0,429.3 L153.0,429.0 L151.0,428.7 L149.0,428.3 L147.0,428.0 L145.0,427.6 L143.0,427.2 L141.0,426.8 L139.0,426.4 L137.0,426.0 L135.0,425.7 L133.0,425.4 L131.0,425.2 L129.0,425.0 L127.0,424.9 L125.0,424.8 L123.0,424.7 L121.0,424.7 L119.0,424.6 L117.0,424.5 L115.0,424.5 L113.0,424.4 L111.0,424.4 L109.0,424.3 L107.0,424.2 L105.0,424.2 L103.0,424.1 L101.0,424.0 L99.0,424.0 L97.0,423.9 L95.0,423.8 L93.0,423.8 L91.0,423.7 L89.0,423.6 L87.0,423.6 L85.0,423.5 L83.0,423.3 L81.0,423.2 L79.0,423.0 L77.0,422.5 L75.0,421.8 L73.0,421.2 L71.0,421.2 L69.0,421.2 L67.0,421.2 L65.0,421.2 L63.0,421.2 L61.0,421.2Z" fill="none" stroke="#15293a" stroke-width="1.1" stroke-opacity="0.9"/>
<path d="M61.0,409.2 L63.0,409.2 L65.0,409.2 L67.0,409.3 L69.0,409.3 L71.0,409.3 L73.0,409.3 L75.0,409.4 L77.0,409.4 L79.0,409.4 L81.0,409.5 L83.0,409.5 L85.0,409.6 L87.0,409.6 L89.0,409.7 L91.0,409.7 L93.0,409.8 L95.0,409.8 L97.0,409.9 L99.0,409.9 L101.0,410.0 L103.0,410.1 L105.0,410.2 L107.0,410.3 L109.0,410.4 L111.0,410.5 L113.0,410.7 L115.0,410.8 L117.0,410.8 L119.0,410.9 L121.0,410.9 L123.0,410.8 L125.0,410.7 L127.0,410.5 L129.0,410.3 L131.0,410.1 L133.0,409.8 L135.0,409.3 L137.0,408.9 L139.0,408.4 L141.0,407.9 L143.0,407.3 L145.0,406.6 L147.0,405.9 L149.0,405.4 L151.0,405.0 L153.0,404.7 L155.0,404.5 L157.0,404.3 L159.0,404.1 L161.0,403.9 L163.0,403.8 L165.0,403.7 L167.0,403.5 L169.0,403.4 L171.0,403.3 L173.0,403.2 L175.0,403.1 L177.0,403.1 L179.0,403.0 L181.0,402.9 L183.0,402.9 L185.0,402.8 L187.0,402.7 L189.0,402.7 L191.0,402.6 L193.0,402.6 L195.0,402.5 L197.0,402.5 L199.0,402.5 L201.0,402.4 L203.0,402.4 L205.0,402.3 L207.0,402.3 L209.0,402.2 L211.0,402.2 L213.0,402.1 L215.0,402.1 L217.0,402.0 L219.0,401.9 L221.0,401.9 L223.0,401.8 L225.0,401.8 L227.0,401.7 L229.0,401.7 L231.0,401.7 L233.0,401.7 L235.0,401.7 L237.0,401.8 L239.0,401.8 L241.0,401.9 L243.0,401.9 L245.0,402.0 L247.0,402.1 L249.0,402.2 L251.0,402.2 L253.0,402.3 L255.0,402.5 L257.0,402.6 L259.0,402.8 L261.0,403.0 L263.0,403.2 L265.0,403.4 L267.0,403.6 L269.0,403.9 L271.0,404.1 L273.0,404.4 L275.0,404.7 L277.0,405.0 L279.0,405.4 L281.0,405.7 L283.0,406.1 L285.0,406.6 L287.0,407.0 L289.0,407.5 L291.0,408.1 L293.0,408.7 L295.0,409.5 L297.0,410.3 L299.0,411.1 L301.0,411.9 L301.4,412.1 L301.9,412.3 L302.3,412.5 L302.7,412.8 L303.1,413.1 L303.6,413.4 L304.0,414.2 L303.6,415.0 L303.1,415.3 L302.7,415.6 L302.3,415.9 L301.9,416.1 L301.4,416.3 L301.0,416.5 L299.0,417.3 L297.0,418.1 L295.0,418.9 L293.0,419.7 L291.0,420.3 L289.0,420.9 L287.0,421.4 L285.0,421.8 L283.0,422.3 L281.0,422.7 L279.0,423.0 L277.0,423.4 L275.0,423.7 L273.0,424.0 L271.0,424.3 L269.0,424.5 L267.0,424.8 L265.0,425.0 L263.0,425.2 L261.0,425.4 L259.0,425.6 L257.0,425.8 L255.0,425.9 L253.0,426.1 L251.0,426.2 L249.0,426.2 L247.0,426.3 L245.0,426.4 L243.0,426.5 L241.0,426.5 L239.0,426.6 L237.0,426.6 L235.0,426.7 L233.0,426.7 L231.0,426.7 L229.0,426.7 L227.0,426.7 L225.0,426.6 L223.0,426.6 L221.0,426.5 L219.0,426.5 L217.0,426.4 L215.0,426.3 L213.0,426.3 L211.0,426.2 L209.0,426.2 L207.0,426.1 L205.0,426.1 L203.0,426.0 L201.0,426.0 L199.0,425.9 L197.0,425.9 L195.0,425.9 L193.0,425.8 L191.0,425.8 L189.0,425.7 L187.0,425.7 L185.0,425.6 L183.0,425.5 L181.0,425.5 L179.0,425.4 L177.0,425.3 L175.0,425.3 L173.0,425.2 L171.0,425.1 L169.0,425.0 L167.0,424.9 L165.0,424.7 L163.0,424.6 L161.0,424.5 L159.0,424.3 L157.0,424.1 L155.0,423.9 L153.0,423.7 L151.0,423.4 L149.0,423.0 L147.0,422.5 L145.0,421.8 L143.0,421.1 L141.0,420.5 L139.0,420.0 L137.0,419.5 L135.0,419.1 L133.0,418.6 L131.0,418.3 L129.0,418.1 L127.0,417.9 L125.0,417.7 L123.0,417.6 L121.0,417.5 L119.0,417.5 L117.0,417.6 L115.0,417.6 L113.0,417.7 L111.0,417.9 L109.0,418.0 L107.0,418.1 L105.0,418.2 L103.0,418.3 L101.0,418.4 L99.0,418.5 L97.0,418.5 L95.0,418.6 L93.0,418.6 L91.0,418.7 L89.0,418.7 L87.0,418.8 L85.0,418.8 L83.0,418.9 L81.0,418.9 L79.0,419.0 L77.0,419.0 L75.0,419.0 L73.0,419.1 L71.0,419.1 L69.0,419.1 L67.0,419.1 L65.0,419.2 L63.0,419.2 L61.0,419.2Z" fill="none" stroke="#1c3a2c" stroke-width="0.9" stroke-opacity="0.9"/>
<path d="M149.0,414.2 L151.0,412.4 L153.0,411.6 L155.0,410.8 L157.0,410.2 L159.0,409.6 L161.0,409.2 L163.0,408.8 L165.0,408.4 L167.0,408.1 L169.0,407.7 L171.0,407.5 L173.0,407.2 L175.0,406.9 L177.0,406.7 L179.0,406.5 L181.0,406.3 L183.0,406.2 L185.0,406.1 L187.0,406.0 L189.0,405.9 L191.0,405.9 L193.0,405.8 L195.0,405.8 L197.0,405.7 L199.0,405.7 L201.0,405.7 L203.0,405.7 L205.0,405.7 L207.0,405.7 L209.0,405.8 L211.0,405.8 L213.0,405.9 L215.0,405.9 L217.0,406.0 L219.0,406.1 L221.0,406.2 L223.0,406.4 L225.0,406.6 L227.0,406.9 L229.0,407.1 L231.0,407.3 L233.0,407.6 L235.0,407.8 L237.0,408.1 L239.0,408.5 L241.0,409.0 L243.0,409.6 L245.0,410.5 L247.0,411.4 L247.4,411.6 L247.9,411.8 L248.3,412.1 L248.7,412.4 L249.1,412.7 L249.6,413.2 L250.0,414.2 L249.6,415.2 L249.1,415.7 L248.7,416.0 L248.3,416.3 L247.9,416.6 L247.4,416.8 L247.0,417.0 L245.0,417.9 L243.0,418.8 L241.0,419.4 L239.0,419.9 L237.0,420.3 L235.0,420.6 L233.0,420.8 L231.0,421.1 L229.0,421.3 L227.0,421.5 L225.0,421.8 L223.0,422.0 L221.0,422.2 L219.0,422.3 L217.0,422.4 L215.0,422.5 L213.0,422.5 L211.0,422.6 L209.0,422.6 L207.0,422.7 L205.0,422.7 L203.0,422.7 L201.0,422.7 L199.0,422.7 L197.0,422.7 L195.0,422.6 L193.0,422.6 L191.0,422.5 L189.0,422.5 L187.0,422.4 L185.0,422.3 L183.0,422.2 L181.0,422.1 L179.0,421.9 L177.0,421.7 L175.0,421.5 L173.0,421.2 L171.0,420.9 L169.0,420.7 L167.0,420.3 L165.0,420.0 L163.0,419.6 L161.0,419.2 L159.0,418.8 L157.0,418.2 L155.0,417.6 L153.0,416.8 L151.0,416.0Z" fill="none" stroke="#1c3a2c" stroke-width="0.9" stroke-opacity="0.9"/>
<path d="M170.0,414.2 L172.0,412.9 L174.0,412.4 L176.0,412.0 L178.0,411.7 L180.0,411.4 L182.0,411.3 L184.0,411.3 L186.0,411.3 L188.0,411.4 L190.0,411.5 L192.0,411.7 L194.0,412.1 L195.5,412.4 L195.9,412.5 L196.4,412.7 L196.8,412.8 L197.2,413.0 L197.6,413.2 L198.1,413.5 L198.5,414.2 L198.1,414.9 L197.6,415.2 L197.2,415.4 L196.8,415.6 L196.4,415.7 L195.9,415.9 L195.5,416.0 L194.0,416.3 L192.0,416.7 L190.0,416.9 L188.0,417.0 L186.0,417.1 L184.0,417.1 L182.0,417.1 L180.0,417.0 L178.0,416.7 L176.0,416.4 L174.0,416.0 L172.0,415.5Z" fill="none" stroke="#1c3a2c" stroke-width="0.9" stroke-opacity="0.9"/>
<line x1="79.94" y1="526.45" x2="79.94" y2="518.95" stroke="#7d9090" stroke-width="1"/>
<line x1="99.97" y1="526.45" x2="99.97" y2="518.95" stroke="#7d9090" stroke-width="1"/>
<line x1="120.01" y1="526.45" x2="120.01" y2="518.95" stroke="#7d9090" stroke-width="1"/>
<line x1="140.04" y1="526.45" x2="140.04" y2="518.95" stroke="#7d9090" stroke-width="1"/>
<line x1="180.12" y1="526.45" x2="180.12" y2="518.95" stroke="#7d9090" stroke-width="1"/>
<line x1="200.15" y1="526.45" x2="200.15" y2="518.95" stroke="#7d9090" stroke-width="1"/>
<line x1="220.19" y1="526.45" x2="220.19" y2="518.95" stroke="#7d9090" stroke-width="1"/>
<line x1="240.22" y1="526.45" x2="240.22" y2="518.95" stroke="#7d9090" stroke-width="1"/>
<line x1="280.30" y1="526.45" x2="280.30" y2="518.95" stroke="#7d9090" stroke-width="1"/>
<line x1="300.33" y1="526.45" x2="300.33" y2="518.95" stroke="#7d9090" stroke-width="1"/>
<line x1="320.37" y1="526.45" x2="320.37" y2="518.95" stroke="#7d9090" stroke-width="1"/>
<line x1="340.40" y1="526.45" x2="340.40" y2="518.95" stroke="#7d9090" stroke-width="1"/>
<line x1="380.48" y1="526.45" x2="380.48" y2="518.95" stroke="#7d9090" stroke-width="1"/>
<line x1="400.51" y1="526.45" x2="400.51" y2="518.95" stroke="#7d9090" stroke-width="1"/>
<line x1="420.55" y1="526.45" x2="420.55" y2="518.95" stroke="#7d9090" stroke-width="1"/>
<line x1="440.58" y1="526.45" x2="440.58" y2="518.95" stroke="#7d9090" stroke-width="1"/>
<line x1="480.66" y1="526.45" x2="480.66" y2="518.95" stroke="#7d9090" stroke-width="1"/>
<line x1="500.69" y1="526.45" x2="500.69" y2="518.95" stroke="#7d9090" stroke-width="1"/>
<line x1="520.73" y1="526.45" x2="520.73" y2="518.95" stroke="#7d9090" stroke-width="1"/>
<line x1="540.76" y1="526.45" x2="540.76" y2="518.95" stroke="#7d9090" stroke-width="1"/>
<line x1="59.90" y1="504.00" x2="66.90" y2="504.00" stroke="#7d9090" stroke-width="1"/>
<line x1="59.90" y1="481.55" x2="66.90" y2="481.55" stroke="#7d9090" stroke-width="1"/>
<line x1="59.90" y1="459.10" x2="66.90" y2="459.10" stroke="#7d9090" stroke-width="1"/>
<line x1="59.90" y1="436.65" x2="66.90" y2="436.65" stroke="#7d9090" stroke-width="1"/>
<line x1="59.90" y1="391.75" x2="66.90" y2="391.75" stroke="#7d9090" stroke-width="1"/>
<line x1="59.90" y1="369.30" x2="66.90" y2="369.30" stroke="#7d9090" stroke-width="1"/>
<line x1="59.90" y1="346.85" x2="66.90" y2="346.85" stroke="#7d9090" stroke-width="1"/>
<line x1="59.90" y1="324.40" x2="66.90" y2="324.40" stroke="#7d9090" stroke-width="1"/>
<line x1="160.08" y1="526.45" x2="160.08" y2="513.65" stroke="#000" stroke-width="2.7"/>
<line x1="260.26" y1="526.45" x2="260.26" y2="513.65" stroke="#000" stroke-width="2.7"/>
<line x1="360.44" y1="526.45" x2="360.44" y2="513.65" stroke="#000" stroke-width="2.7"/>
<line x1="460.62" y1="526.45" x2="460.62" y2="513.65" stroke="#000" stroke-width="2.7"/>
<line x1="560.80" y1="526.45" x2="560.80" y2="513.65" stroke="#000" stroke-width="2.7"/>
<line x1="59.90" y1="301.95" x2="71.90" y2="301.95" stroke="#000" stroke-width="2.7"/>
<line x1="59.90" y1="414.20" x2="71.90" y2="414.20" stroke="#000" stroke-width="2.7"/>
<path d="M59.90,292.50 V526.45 H562.15" fill="none" stroke="#000" stroke-width="2.7" stroke-linejoin="miter"/>
<text x="59.90" y="547.55" font-family="Liberation Sans, Arial, Helvetica, sans-serif" font-size="19.6" text-anchor="middle" fill="#000" stroke="#000" stroke-width="0.35" transform="matrix(0.875,0,0,1,7.487,0)" >0</text>
<text x="160.08" y="547.55" font-family="Liberation Sans, Arial, Helvetica, sans-serif" font-size="19.6" text-anchor="middle" fill="#000" stroke="#000" stroke-width="0.35" transform="matrix(0.875,0,0,1,20.010,0)" >100</text><g transform="matrix(0.875,0,0,1,20.010,0)"><rect x="143.92" y="545.29" width="4.31" height="3.26" fill="#fff"/><rect x="150.82" y="545.29" width="4.16" height="3.26" fill="#fff"/></g>
<text x="260.26" y="547.55" font-family="Liberation Sans, Arial, Helvetica, sans-serif" font-size="19.6" text-anchor="middle" fill="#000" stroke="#000" stroke-width="0.35" transform="matrix(0.875,0,0,1,32.532,0)" >200</text>
<text x="360.44" y="547.55" font-family="Liberation Sans, Arial, Helvetica, sans-serif" font-size="19.6" text-anchor="middle" fill="#000" stroke="#000" stroke-width="0.35" transform="matrix(0.875,0,0,1,45.055,0)" >300</text>
<text x="460.62" y="547.55" font-family="Liberation Sans, Arial, Helvetica, sans-serif" font-size="19.6" text-anchor="middle" fill="#000" stroke="#000" stroke-width="0.35" transform="matrix(0.875,0,0,1,57.578,0)" >400</text>
<text x="560.80" y="547.55" font-family="Liberation Sans, Arial, Helvetica, sans-serif" font-size="19.6" text-anchor="middle" fill="#000" stroke="#000" stroke-width="0.35" transform="matrix(0.875,0,0,1,70.100,0)" >500</text>
<text x="52.60" y="308.90" font-family="Liberation Sans, Arial, Helvetica, sans-serif" font-size="19.6" text-anchor="end" fill="#000" stroke="#000" stroke-width="0.35" transform="matrix(0.875,0,0,1,6.575,0)" >100</text><g transform="matrix(0.875,0,0,1,6.575,0)"><rect x="20.09" y="306.64" width="4.31" height="3.26" fill="#fff"/><rect x="26.98" y="306.64" width="4.16" height="3.26" fill="#fff"/></g>
<text x="52.60" y="421.15" font-family="Liberation Sans, Arial, Helvetica, sans-serif" font-size="19.6" text-anchor="end" fill="#000" stroke="#000" stroke-width="0.35" transform="matrix(0.875,0,0,1,6.575,0)" >0</text>
<text x="52.60" y="533.85" font-family="Liberation Sans, Arial, Helvetica, sans-serif" font-size="19.6" text-anchor="end" fill="#000" stroke="#000" stroke-width="0.35" transform="matrix(0.875,0,0,1,6.575,0)" ><tspan dy="0.8">-</tspan><tspan dx="1.30" dy="-0.8">100</tspan></text><g transform="matrix(0.875,0,0,1,6.575,0)"><rect x="20.09" y="531.59" width="4.31" height="3.26" fill="#fff"/><rect x="26.98" y="531.59" width="4.16" height="3.26" fill="#fff"/></g>
<rect x="180.30" y="313.60" width="210.90" height="54.00" fill="#fff" stroke="#627474" stroke-width="1.1"/>
<rect x="226.00" y="318.00" width="15.08" height="25.20" fill="#57c1fc"/>
<rect x="241.03" y="318.00" width="30.11" height="25.20" fill="#70fc74"/>
<rect x="271.09" y="318.00" width="30.11" height="25.20" fill="#5cfa00"/>
<rect x="301.15" y="318.00" width="30.11" height="25.20" fill="#a8f800"/>
<rect x="331.21" y="318.00" width="30.11" height="25.20" fill="#ffa000"/>
<rect x="361.27" y="318.00" width="15.08" height="25.20" fill="#ff1208"/>
<text x="197.90" y="364.00" font-family="Liberation Sans, Arial, Helvetica, sans-serif" font-size="16.0" text-anchor="start" fill="#000" stroke="#000" stroke-width="0.35" transform="matrix(0.91,0,0,1,17.811,0)" letter-spacing="0.7">c1:</text><g transform="matrix(0.91,0,0,1,17.811,0)"><rect x="206.52" y="362.00" width="3.68" height="3.00" fill="#fff"/><rect x="212.46" y="362.00" width="3.55" height="3.00" fill="#fff"/></g>
<text x="241.03" y="364.00" font-family="Liberation Sans, Arial, Helvetica, sans-serif" font-size="16.0" text-anchor="middle" fill="#000" stroke="#000" stroke-width="0.35" transform="matrix(0.91,0,0,1,21.693,0)" >50</text>
<text x="271.09" y="364.00" font-family="Liberation Sans, Arial, Helvetica, sans-serif" font-size="16.0" text-anchor="middle" fill="#000" stroke="#000" stroke-width="0.35" transform="matrix(0.91,0,0,1,24.398,0)" >100</text><g transform="matrix(0.91,0,0,1,24.398,0)"><rect x="257.66" y="362.00" width="3.68" height="3.00" fill="#fff"/><rect x="263.60" y="362.00" width="3.55" height="3.00" fill="#fff"/></g>
<text x="301.15" y="364.00" font-family="Liberation Sans, Arial, Helvetica, sans-serif" font-size="16.0" text-anchor="middle" fill="#000" stroke="#000" stroke-width="0.35" transform="matrix(0.91,0,0,1,27.103,0)" >200</text>
<text x="331.21" y="364.00" font-family="Liberation Sans, Arial, Helvetica, sans-serif" font-size="16.0" text-anchor="middle" fill="#000" stroke="#000" stroke-width="0.35" transform="matrix(0.91,0,0,1,29.809,0)" >500</text>
<text x="361.27" y="364.00" font-family="Liberation Sans, Arial, Helvetica, sans-serif" font-size="16.0" text-anchor="middle" fill="#000" stroke="#000" stroke-width="0.35" transform="matrix(0.91,0,0,1,32.514,0)" >800</text>
<rect x="441.70" y="308.20" width="129.30" height="68.60" fill="#fff" stroke="#1a2626" stroke-width="1.5"/>
<text x="505.65" y="359.60" font-family="Liberation Sans, Arial, Helvetica, sans-serif" font-size="45.5" text-anchor="middle" fill="#000" stroke="#000" stroke-width="0.2" transform="matrix(0.975,0,0,1,12.641,0)" >20<tspan dx="1.3">1</tspan><tspan dx="-1.3">4</tspan></text><g transform="matrix(0.975,0,0,1,12.641,0)"><rect x="509.12" y="355.40" width="8.93" height="5.20" fill="#fff"/><rect x="522.76" y="355.40" width="8.57" height="5.20" fill="#fff"/></g></g>
<g id="p3"><path d="M61.0,677.6 L63.0,677.6 L65.0,677.6 L67.0,677.6 L69.0,677.6 L71.0,677.6 L73.0,677.6 L75.0,677.4 L77.0,676.4 L79.0,675.7 L81.0,675.4 L83.0,675.2 L85.0,675.1 L87.0,674.9 L89.0,674.9 L91.0,674.8 L93.0,674.7 L95.0,674.6 L97.0,674.5 L99.0,674.4 L101.0,674.3 L103.0,674.2 L105.0,674.2 L107.0,674.1 L109.0,674.0 L111.0,673.9 L113.0,673.9 L115.0,673.8 L117.0,673.7 L119.0,673.6 L121.0,673.6 L123.0,673.5 L125.0,673.4 L127.0,673.3 L129.0,673.2 L131.0,673.2 L133.0,673.1 L135.0,673.0 L137.0,672.9 L139.0,672.7 L141.0,672.6 L143.0,672.5 L145.0,672.4 L147.0,672.3 L149.0,672.2 L151.0,672.1 L153.0,672.0 L155.0,671.9 L157.0,671.9 L159.0,671.8 L161.0,671.8 L163.0,671.7 L165.0,671.7 L167.0,671.7 L169.0,671.6 L171.0,671.6 L173.0,671.6 L175.0,671.6 L177.0,671.5 L179.0,671.5 L181.0,671.5 L183.0,671.5 L185.0,671.5 L187.0,671.5 L189.0,671.5 L191.0,671.5 L193.0,671.5 L195.0,671.5 L197.0,671.5 L199.0,671.5 L201.0,671.5 L203.0,671.6 L205.0,671.6 L207.0,671.6 L209.0,671.6 L211.0,671.6 L213.0,671.6 L215.0,671.6 L217.0,671.7 L219.0,671.7 L221.0,671.7 L223.0,671.8 L225.0,671.8 L227.0,671.9 L229.0,671.9 L231.0,672.0 L233.0,672.0 L235.0,672.1 L237.0,672.2 L239.0,672.3 L241.0,672.4 L243.0,672.5 L245.0,672.6 L247.0,672.7 L249.0,672.8 L251.0,673.0 L253.0,673.1 L255.0,673.2 L257.0,673.4 L259.0,673.5 L261.0,673.7 L263.0,673.8 L265.0,674.0 L267.0,674.2 L269.0,674.4 L271.0,674.6 L273.0,674.9 L275.0,675.2 L277.0,675.4 L279.0,675.7 L281.0,676.1 L283.0,676.4 L285.0,676.8 L287.0,677.3 L289.0,677.7 L291.0,678.3 L293.0,678.9 L295.0,679.7 L297.0,680.6 L298.0,681.1 L298.4,681.3 L298.9,681.6 L299.3,681.9 L299.7,682.2 L300.1,682.6 L300.6,683.0 L301.0,684.2 L300.6,685.4 L300.1,685.8 L299.7,686.2 L299.3,686.5 L298.9,686.8 L298.4,687.1 L298.0,687.3 L297.0,687.8 L295.0,688.7 L293.0,689.5 L291.0,690.1 L289.0,690.7 L287.0,691.1 L285.0,691.6 L283.0,692.0 L281.0,692.3 L279.0,692.7 L277.0,693.0 L275.0,693.2 L273.0,693.5 L271.0,693.8 L269.0,694.0 L267.0,694.2 L265.0,694.4 L263.0,694.6 L261.0,694.7 L259.0,694.9 L257.0,695.0 L255.0,695.2 L253.0,695.3 L251.0,695.4 L249.0,695.6 L247.0,695.7 L245.0,695.8 L243.0,695.9 L241.0,696.0 L239.0,696.1 L237.0,696.2 L235.0,696.3 L233.0,696.4 L231.0,696.4 L229.0,696.5 L227.0,696.5 L225.0,696.6 L223.0,696.6 L221.0,696.7 L219.0,696.7 L217.0,696.7 L215.0,696.8 L213.0,696.8 L211.0,696.8 L209.0,696.8 L207.0,696.8 L205.0,696.8 L203.0,696.8 L201.0,696.9 L199.0,696.9 L197.0,696.9 L195.0,696.9 L193.0,696.9 L191.0,696.9 L189.0,696.9 L187.0,696.9 L185.0,696.9 L183.0,696.9 L181.0,696.9 L179.0,696.9 L177.0,696.9 L175.0,696.8 L173.0,696.8 L171.0,696.8 L169.0,696.8 L167.0,696.7 L165.0,696.7 L163.0,696.7 L161.0,696.6 L159.0,696.6 L157.0,696.5 L155.0,696.5 L153.0,696.4 L151.0,696.3 L149.0,696.2 L147.0,696.1 L145.0,696.0 L143.0,695.9 L141.0,695.8 L139.0,695.7 L137.0,695.5 L135.0,695.4 L133.0,695.3 L131.0,695.2 L129.0,695.2 L127.0,695.1 L125.0,695.0 L123.0,694.9 L121.0,694.8 L119.0,694.8 L117.0,694.7 L115.0,694.6 L113.0,694.5 L111.0,694.5 L109.0,694.4 L107.0,694.3 L105.0,694.2 L103.0,694.2 L101.0,694.1 L99.0,694.0 L97.0,693.9 L95.0,693.8 L93.0,693.7 L91.0,693.6 L89.0,693.5 L87.0,693.5 L85.0,693.3 L83.0,693.2 L81.0,693.0 L79.0,692.7 L77.0,692.0 L75.0,691.0 L73.0,690.8 L71.0,690.8 L69.0,690.8 L67.0,690.8 L65.0,690.8 L63.0,690.8 L61.0,690.8Z" fill="#4fb9f6"/>
<path d="M61.0,677.6 L63.0,677.6 L65.0,677.6 L67.0,677.6 L69.0,677.6 L71.0,677.6 L73.0,677.6 L75.0,677.4 L77.0,676.4 L79.0,675.7 L81.0,675.4 L83.0,675.2 L85.0,675.1 L87.0,674.9 L89.0,674.9 L91.0,674.8 L93.0,674.7 L95.0,674.6 L97.0,674.5 L99.0,674.4 L101.0,674.3 L103.0,674.2 L105.0,674.2 L107.0,674.1 L109.0,674.0 L111.0,673.9 L113.0,673.9 L115.0,673.8 L117.0,673.7 L119.0,673.6 L121.0,673.6 L123.0,673.5 L125.0,673.4 L127.0,673.3 L129.0,673.2 L131.0,673.2 L133.0,673.1 L135.0,673.0 L137.0,672.9 L139.0,672.7 L141.0,672.6 L143.0,672.5 L145.0,672.4 L147.0,672.3 L149.0,672.2 L151.0,672.1 L153.0,672.0 L155.0,671.9 L157.0,671.9 L159.0,671.8 L161.0,671.8 L163.0,671.7 L165.0,671.7 L167.0,671.7 L169.0,671.6 L171.0,671.6 L173.0,671.6 L175.0,671.6 L177.0,671.5 L179.0,671.5 L181.0,671.5 L183.0,671.5 L185.0,671.5 L187.0,671.5 L189.0,671.5 L191.0,671.5 L193.0,671.5 L195.0,671.5 L197.0,671.5 L199.0,671.5 L201.0,671.5 L203.0,671.6 L205.0,671.6 L207.0,671.6 L209.0,671.6 L211.0,671.6 L213.0,671.6 L215.0,671.6 L217.0,671.7 L219.0,671.7 L221.0,671.7 L223.0,671.8 L225.0,671.8 L227.0,671.9 L229.0,671.9 L231.0,672.0 L233.0,672.0 L235.0,672.1 L237.0,672.2 L239.0,672.3 L241.0,672.4 L243.0,672.5 L245.0,672.6 L247.0,672.7 L249.0,672.8 L251.0,673.0 L253.0,673.1 L255.0,673.2 L257.0,673.4 L259.0,673.5 L261.0,673.7 L263.0,673.8 L265.0,674.0 L267.0,674.2 L269.0,674.4 L271.0,674.6 L273.0,674.9 L275.0,675.2 L277.0,675.4 L279.0,675.7 L281.0,676.1 L283.0,676.4 L285.0,676.8 L287.0,677.3 L289.0,677.7 L291.0,678.3 L293.0,678.9 L295.0,679.7 L297.0,680.6 L298.0,681.1 L298.4,681.3 L298.9,681.6 L299.3,681.9 L299.7,682.2 L300.1,682.6 L300.6,683.0 L301.0,684.2 L300.6,685.4 L300.1,685.8 L299.7,686.2 L299.3,686.5 L298.9,686.8 L298.4,687.1 L298.0,687.3 L297.0,687.8 L295.0,688.7 L293.0,689.5 L291.0,690.1 L289.0,690.7 L287.0,691.1 L285.0,691.6 L283.0,692.0 L281.0,692.3 L279.0,692.7 L277.0,693.0 L275.0,693.2 L273.0,693.5 L271.0,693.8 L269.0,694.0 L267.0,694.2 L265.0,694.4 L263.0,694.6 L261.0,694.7 L259.0,694.9 L257.0,695.0 L255.0,695.2 L253.0,695.3 L251.0,695.4 L249.0,695.6 L247.0,695.7 L245.0,695.8 L243.0,695.9 L241.0,696.0 L239.0,696.1 L237.0,696.2 L235.0,696.3 L233.0,696.4 L231.0,696.4 L229.0,696.5 L227.0,696.5 L225.0,696.6 L223.0,696.6 L221.0,696.7 L219.0,696.7 L217.0,696.7 L215.0,696.8 L213.0,696.8 L211.0,696.8 L209.0,696.8 L207.0,696.8 L205.0,696.8 L203.0,696.8 L201.0,696.9 L199.0,696.9 L197.0,696.9 L195.0,696.9 L193.0,696.9 L191.0,696.9 L189.0,696.9 L187.0,696.9 L185.0,696.9 L183.0,696.9 L181.0,696.9 L179.0,696.9 L177.0,696.9 L175.0,696.8 L173.0,696.8 L171.0,696.8 L169.0,696.8 L167.0,696.7 L165.0,696.7 L163.0,696.7 L161.0,696.6 L159.0,696.6 L157.0,696.5 L155.0,696.5 L153.0,696.4 L151.0,696.3 L149.0,696.2 L147.0,696.1 L145.0,696.0 L143.0,695.9 L141.0,695.8 L139.0,695.7 L137.0,695.5 L135.0,695.4 L133.0,695.3 L131.0,695.2 L129.0,695.2 L127.0,695.1 L125.0,695.0 L123.0,694.9 L121.0,694.8 L119.0,694.8 L117.0,694.7 L115.0,694.6 L113.0,694.5 L111.0,694.5 L109.0,694.4 L107.0,694.3 L105.0,694.2 L103.0,694.2 L101.0,694.1 L99.0,694.0 L97.0,693.9 L95.0,693.8 L93.0,693.7 L91.0,693.6 L89.0,693.5 L87.0,693.5 L85.0,693.3 L83.0,693.2 L81.0,693.0 L79.0,692.7 L77.0,692.0 L75.0,691.0 L73.0,690.8 L71.0,690.8 L69.0,690.8 L67.0,690.8 L65.0,690.8 L63.0,690.8 L61.0,690.8Z" fill="url(#mesh_p3)"/>
<path d="M61.0,679.4 L63.0,679.4 L65.0,679.4 L67.0,679.5 L69.0,679.5 L71.0,679.5 L73.0,679.5 L75.0,679.6 L77.0,679.6 L79.0,679.6 L81.0,679.6 L83.0,679.7 L85.0,679.7 L87.0,679.7 L89.0,679.8 L91.0,679.8 L93.0,679.8 L95.0,679.9 L97.0,679.9 L99.0,679.9 L101.0,679.9 L103.0,680.0 L105.0,680.0 L107.0,680.0 L109.0,680.1 L111.0,680.1 L113.0,680.3 L115.0,680.5 L117.0,680.8 L119.0,681.1 L121.0,681.4 L123.0,681.8 L125.0,682.3 L127.0,682.7 L128.7,683.1 L129.1,683.2 L129.6,683.3 L130.0,683.4 L130.4,683.5 L130.8,683.7 L131.3,683.8 L131.7,684.2 L131.3,684.6 L130.8,684.7 L130.4,684.9 L130.0,685.0 L129.6,685.1 L129.1,685.2 L128.7,685.3 L127.0,685.7 L125.0,686.1 L123.0,686.6 L121.0,687.0 L119.0,687.3 L117.0,687.6 L115.0,687.9 L113.0,688.1 L111.0,688.3 L109.0,688.3 L107.0,688.4 L105.0,688.4 L103.0,688.4 L101.0,688.5 L99.0,688.5 L97.0,688.5 L95.0,688.6 L93.0,688.6 L91.0,688.6 L89.0,688.6 L87.0,688.7 L85.0,688.7 L83.0,688.7 L81.0,688.8 L79.0,688.8 L77.0,688.8 L75.0,688.8 L73.0,688.9 L71.0,688.9 L69.0,688.9 L67.0,688.9 L65.0,689.0 L63.0,689.0 L61.0,689.0Z" fill="#72fa7a"/>
<path d="M61.0,679.4 L63.0,679.4 L65.0,679.4 L67.0,679.5 L69.0,679.5 L71.0,679.5 L73.0,679.5 L75.0,679.6 L77.0,679.6 L79.0,679.6 L81.0,679.6 L83.0,679.7 L85.0,679.7 L87.0,679.7 L89.0,679.8 L91.0,679.8 L93.0,679.8 L95.0,679.9 L97.0,679.9 L99.0,679.9 L101.0,679.9 L103.0,680.0 L105.0,680.0 L107.0,680.0 L109.0,680.1 L111.0,680.1 L113.0,680.3 L115.0,680.5 L117.0,680.8 L119.0,681.1 L121.0,681.4 L123.0,681.8 L125.0,682.3 L127.0,682.7 L128.7,683.1 L129.1,683.2 L129.6,683.3 L130.0,683.4 L130.4,683.5 L130.8,683.7 L131.3,683.8 L131.7,684.2 L131.3,684.6 L130.8,684.7 L130.4,684.9 L130.0,685.0 L129.6,685.1 L129.1,685.2 L128.7,685.3 L127.0,685.7 L125.0,686.1 L123.0,686.6 L121.0,687.0 L119.0,687.3 L117.0,687.6 L115.0,687.9 L113.0,688.1 L111.0,688.3 L109.0,688.3 L107.0,688.4 L105.0,688.4 L103.0,688.4 L101.0,688.5 L99.0,688.5 L97.0,688.5 L95.0,688.6 L93.0,688.6 L91.0,688.6 L89.0,688.6 L87.0,688.7 L85.0,688.7 L83.0,688.7 L81.0,688.8 L79.0,688.8 L77.0,688.8 L75.0,688.8 L73.0,688.9 L71.0,688.9 L69.0,688.9 L67.0,688.9 L65.0,689.0 L63.0,689.0 L61.0,689.0Z" fill="url(#meshw_p3)"/>
<path d="M61.0,677.6 L63.0,677.6 L65.0,677.6 L67.0,677.6 L69.0,677.6 L71.0,677.6 L73.0,677.6 L75.0,677.4 L77.0,676.4 L79.0,675.7 L81.0,675.4 L83.0,675.2 L85.0,675.1 L87.0,674.9 L89.0,674.9 L91.0,674.8 L93.0,674.7 L95.0,674.6 L97.0,674.5 L99.0,674.4 L101.0,674.3 L103.0,674.2 L105.0,674.2 L107.0,674.1 L109.0,674.0 L111.0,673.9 L113.0,673.9 L115.0,673.8 L117.0,673.7 L119.0,673.6 L121.0,673.6 L123.0,673.5 L125.0,673.4 L127.0,673.3 L129.0,673.2 L131.0,673.2 L133.0,673.1 L135.0,673.0 L137.0,672.9 L139.0,672.7 L141.0,672.6 L143.0,672.5 L145.0,672.4 L147.0,672.3 L149.0,672.2 L151.0,672.1 L153.0,672.0 L155.0,671.9 L157.0,671.9 L159.0,671.8 L161.0,671.8 L163.0,671.7 L165.0,671.7 L167.0,671.7 L169.0,671.6 L171.0,671.6 L173.0,671.6 L175.0,671.6 L177.0,671.5 L179.0,671.5 L181.0,671.5 L183.0,671.5 L185.0,671.5 L187.0,671.5 L189.0,671.5 L191.0,671.5 L193.0,671.5 L195.0,671.5 L197.0,671.5 L199.0,671.5 L201.0,671.5 L203.0,671.6 L205.0,671.6 L207.0,671.6 L209.0,671.6 L211.0,671.6 L213.0,671.6 L215.0,671.6 L217.0,671.7 L219.0,671.7 L221.0,671.7 L223.0,671.8 L225.0,671.8 L227.0,671.9 L229.0,671.9 L231.0,672.0 L233.0,672.0 L235.0,672.1 L237.0,672.2 L239.0,672.3 L241.0,672.4 L243.0,672.5 L245.0,672.6 L247.0,672.7 L249.0,672.8 L251.0,673.0 L253.0,673.1 L255.0,673.2 L257.0,673.4 L259.0,673.5 L261.0,673.7 L263.0,673.8 L265.0,674.0 L267.0,674.2 L269.0,674.4 L271.0,674.6 L273.0,674.9 L275.0,675.2 L277.0,675.4 L279.0,675.7 L281.0,676.1 L283.0,676.4 L285.0,676.8 L287.0,677.3 L289.0,677.7 L291.0,678.3 L293.0,678.9 L295.0,679.7 L297.0,680.6 L298.0,681.1 L298.4,681.3 L298.9,681.6 L299.3,681.9 L299.7,682.2 L300.1,682.6 L300.6,683.0 L301.0,684.2 L300.6,685.4 L300.1,685.8 L299.7,686.2 L299.3,686.5 L298.9,686.8 L298.4,687.1 L298.0,687.3 L297.0,687.8 L295.0,688.7 L293.0,689.5 L291.0,690.1 L289.0,690.7 L287.0,691.1 L285.0,691.6 L283.0,692.0 L281.0,692.3 L279.0,692.7 L277.0,693.0 L275.0,693.2 L273.0,693.5 L271.0,693.8 L269.0,694.0 L267.0,694.2 L265.0,694.4 L263.0,694.6 L261.0,694.7 L259.0,694.9 L257.0,695.0 L255.0,695.2 L253.0,695.3 L251.0,695.4 L249.0,695.6 L247.0,695.7 L245.0,695.8 L243.0,695.9 L241.0,696.0 L239.0,696.1 L237.0,696.2 L235.0,696.3 L233.0,696.4 L231.0,696.4 L229.0,696.5 L227.0,696.5 L225.0,696.6 L223.0,696.6 L221.0,696.7 L219.0,696.7 L217.0,696.7 L215.0,696.8 L213.0,696.8 L211.0,696.8 L209.0,696.8 L207.0,696.8 L205.0,696.8 L203.0,696.8 L201.0,696.9 L199.0,696.9 L197.0,696.9 L195.0,696.9 L193.0,696.9 L191.0,696.9 L189.0,696.9 L187.0,696.9 L185.0,696.9 L183.0,696.9 L181.0,696.9 L179.0,696.9 L177.0,696.9 L175.0,696.8 L173.0,696.8 L171.0,696.8 L169.0,696.8 L167.0,696.7 L165.0,696.7 L163.0,696.7 L161.0,696.6 L159.0,696.6 L157.0,696.5 L155.0,696.5 L153.0,696.4 L151.0,696.3 L149.0,696.2 L147.0,696.1 L145.0,696.0 L143.0,695.9 L141.0,695.8 L139.0,695.7 L137.0,695.5 L135.0,695.4 L133.0,695.3 L131.0,695.2 L129.0,695.2 L127.0,695.1 L125.0,695.0 L123.0,694.9 L121.0,694.8 L119.0,694.8 L117.0,694.7 L115.0,694.6 L113.0,694.5 L111.0,694.5 L109.0,694.4 L107.0,694.3 L105.0,694.2 L103.0,694.2 L101.0,694.1 L99.0,694.0 L97.0,693.9 L95.0,693.8 L93.0,693.7 L91.0,693.6 L89.0,693.5 L87.0,693.5 L85.0,693.3 L83.0,693.2 L81.0,693.0 L79.0,692.7 L77.0,692.0 L75.0,691.0 L73.0,690.8 L71.0,690.8 L69.0,690.8 L67.0,690.8 L65.0,690.8 L63.0,690.8 L61.0,690.8Z" fill="none" stroke="#15293a" stroke-width="1.1" stroke-opacity="0.9"/>
<path d="M61.0,679.4 L63.0,679.4 L65.0,679.4 L67.0,679.5 L69.0,679.5 L71.0,679.5 L73.0,679.5 L75.0,679.6 L77.0,679.6 L79.0,679.6 L81.0,679.6 L83.0,679.7 L85.0,679.7 L87.0,679.7 L89.0,679.8 L91.0,679.8 L93.0,679.8 L95.0,679.9 L97.0,679.9 L99.0,679.9 L101.0,679.9 L103.0,680.0 L105.0,680.0 L107.0,680.0 L109.0,680.1 L111.0,680.1 L113.0,680.3 L115.0,680.5 L117.0,680.8 L119.0,681.1 L121.0,681.4 L123.0,681.8 L125.0,682.3 L127.0,682.7 L128.7,683.1 L129.1,683.2 L129.6,683.3 L130.0,683.4 L130.4,683.5 L130.8,683.7 L131.3,683.8 L131.7,684.2 L131.3,684.6 L130.8,684.7 L130.4,684.9 L130.0,685.0 L129.6,685.1 L129.1,685.2 L128.7,685.3 L127.0,685.7 L125.0,686.1 L123.0,686.6 L121.0,687.0 L119.0,687.3 L117.0,687.6 L115.0,687.9 L113.0,688.1 L111.0,688.3 L109.0,688.3 L107.0,688.4 L105.0,688.4 L103.0,688.4 L101.0,688.5 L99.0,688.5 L97.0,688.5 L95.0,688.6 L93.0,688.6 L91.0,688.6 L89.0,688.6 L87.0,688.7 L85.0,688.7 L83.0,688.7 L81.0,688.8 L79.0,688.8 L77.0,688.8 L75.0,688.8 L73.0,688.9 L71.0,688.9 L69.0,688.9 L67.0,688.9 L65.0,689.0 L63.0,689.0 L61.0,689.0Z" fill="none" stroke="#1c3a2c" stroke-width="0.9" stroke-opacity="0.9"/>
<line x1="79.93" y1="796.25" x2="79.93" y2="788.75" stroke="#7d9090" stroke-width="1"/>
<line x1="99.96" y1="796.25" x2="99.96" y2="788.75" stroke="#7d9090" stroke-width="1"/>
<line x1="120.00" y1="796.25" x2="120.00" y2="788.75" stroke="#7d9090" stroke-width="1"/>
<line x1="140.03" y1="796.25" x2="140.03" y2="788.75" stroke="#7d9090" stroke-width="1"/>
<line x1="180.09" y1="796.25" x2="180.09" y2="788.75" stroke="#7d9090" stroke-width="1"/>
<line x1="200.12" y1="796.25" x2="200.12" y2="788.75" stroke="#7d9090" stroke-width="1"/>
<line x1="220.16" y1="796.25" x2="220.16" y2="788.75" stroke="#7d9090" stroke-width="1"/>
<line x1="240.19" y1="796.25" x2="240.19" y2="788.75" stroke="#7d9090" stroke-width="1"/>
<line x1="280.25" y1="796.25" x2="280.25" y2="788.75" stroke="#7d9090" stroke-width="1"/>
<line x1="300.28" y1="796.25" x2="300.28" y2="788.75" stroke="#7d9090" stroke-width="1"/>
<line x1="320.32" y1="796.25" x2="320.32" y2="788.75" stroke="#7d9090" stroke-width="1"/>
<line x1="340.35" y1="796.25" x2="340.35" y2="788.75" stroke="#7d9090" stroke-width="1"/>
<line x1="380.41" y1="796.25" x2="380.41" y2="788.75" stroke="#7d9090" stroke-width="1"/>
<line x1="400.44" y1="796.25" x2="400.44" y2="788.75" stroke="#7d9090" stroke-width="1"/>
<line x1="420.48" y1="796.25" x2="420.48" y2="788.75" stroke="#7d9090" stroke-width="1"/>
<line x1="440.51" y1="796.25" x2="440.51" y2="788.75" stroke="#7d9090" stroke-width="1"/>
<line x1="480.57" y1="796.25" x2="480.57" y2="788.75" stroke="#7d9090" stroke-width="1"/>
<line x1="500.60" y1="796.25" x2="500.60" y2="788.75" stroke="#7d9090" stroke-width="1"/>
<line x1="520.64" y1="796.25" x2="520.64" y2="788.75" stroke="#7d9090" stroke-width="1"/>
<line x1="540.67" y1="796.25" x2="540.67" y2="788.75" stroke="#7d9090" stroke-width="1"/>
<line x1="59.90" y1="773.84" x2="66.90" y2="773.84" stroke="#7d9090" stroke-width="1"/>
<line x1="59.90" y1="751.43" x2="66.90" y2="751.43" stroke="#7d9090" stroke-width="1"/>
<line x1="59.90" y1="729.02" x2="66.90" y2="729.02" stroke="#7d9090" stroke-width="1"/>
<line x1="59.90" y1="706.61" x2="66.90" y2="706.61" stroke="#7d9090" stroke-width="1"/>
<line x1="59.90" y1="661.79" x2="66.90" y2="661.79" stroke="#7d9090" stroke-width="1"/>
<line x1="59.90" y1="639.38" x2="66.90" y2="639.38" stroke="#7d9090" stroke-width="1"/>
<line x1="59.90" y1="616.97" x2="66.90" y2="616.97" stroke="#7d9090" stroke-width="1"/>
<line x1="59.90" y1="594.56" x2="66.90" y2="594.56" stroke="#7d9090" stroke-width="1"/>
<line x1="160.06" y1="796.25" x2="160.06" y2="783.45" stroke="#000" stroke-width="2.7"/>
<line x1="260.22" y1="796.25" x2="260.22" y2="783.45" stroke="#000" stroke-width="2.7"/>
<line x1="360.38" y1="796.25" x2="360.38" y2="783.45" stroke="#000" stroke-width="2.7"/>
<line x1="460.54" y1="796.25" x2="460.54" y2="783.45" stroke="#000" stroke-width="2.7"/>
<line x1="560.70" y1="796.25" x2="560.70" y2="783.45" stroke="#000" stroke-width="2.7"/>
<line x1="59.90" y1="572.15" x2="71.90" y2="572.15" stroke="#000" stroke-width="2.7"/>
<line x1="59.90" y1="684.20" x2="71.90" y2="684.20" stroke="#000" stroke-width="2.7"/>
<path d="M59.90,559.80 V796.25 H562.05" fill="none" stroke="#000" stroke-width="2.7" stroke-linejoin="miter"/>
<text x="59.90" y="817.35" font-family="Liberation Sans, Arial, Helvetica, sans-serif" font-size="19.6" text-anchor="middle" fill="#000" stroke="#000" stroke-width="0.35" transform="matrix(0.875,0,0,1,7.487,0)" >0</text>
<text x="160.06" y="817.35" font-family="Liberation Sans, Arial, Helvetica, sans-serif" font-size="19.6" text-anchor="middle" fill="#000" stroke="#000" stroke-width="0.35" transform="matrix(0.875,0,0,1,20.008,0)" >100</text><g transform="matrix(0.875,0,0,1,20.008,0)"><rect x="143.90" y="815.09" width="4.31" height="3.26" fill="#fff"/><rect x="150.80" y="815.09" width="4.16" height="3.26" fill="#fff"/></g>
<text x="260.22" y="817.35" font-family="Liberation Sans, Arial, Helvetica, sans-serif" font-size="19.6" text-anchor="middle" fill="#000" stroke="#000" stroke-width="0.35" transform="matrix(0.875,0,0,1,32.528,0)" >200</text>
<text x="360.38" y="817.35" font-family="Liberation Sans, Arial, Helvetica, sans-serif" font-size="19.6" text-anchor="middle" fill="#000" stroke="#000" stroke-width="0.35" transform="matrix(0.875,0,0,1,45.047,0)" >300</text>
<text x="460.54" y="817.35" font-family="Liberation Sans, Arial, Helvetica, sans-serif" font-size="19.6" text-anchor="middle" fill="#000" stroke="#000" stroke-width="0.35" transform="matrix(0.875,0,0,1,57.568,0)" >400</text>
<text x="560.70" y="817.35" font-family="Liberation Sans, Arial, Helvetica, sans-serif" font-size="19.6" text-anchor="middle" fill="#000" stroke="#000" stroke-width="0.35" transform="matrix(0.875,0,0,1,70.088,0)" >500</text>
<text x="52.60" y="579.10" font-family="Liberation Sans, Arial, Helvetica, sans-serif" font-size="19.6" text-anchor="end" fill="#000" stroke="#000" stroke-width="0.35" transform="matrix(0.875,0,0,1,6.575,0)" >100</text><g transform="matrix(0.875,0,0,1,6.575,0)"><rect x="20.09" y="576.84" width="4.31" height="3.26" fill="#fff"/><rect x="26.98" y="576.84" width="4.16" height="3.26" fill="#fff"/></g>
<text x="52.60" y="691.15" font-family="Liberation Sans, Arial, Helvetica, sans-serif" font-size="19.6" text-anchor="end" fill="#000" stroke="#000" stroke-width="0.35" transform="matrix(0.875,0,0,1,6.575,0)" >0</text>
<text x="52.60" y="803.65" font-family="Liberation Sans, Arial, Helvetica, sans-serif" font-size="19.6" text-anchor="end" fill="#000" stroke="#000" stroke-width="0.35" transform="matrix(0.875,0,0,1,6.575,0)" ><tspan dy="0.8">-</tspan><tspan dx="1.30" dy="-0.8">100</tspan></text><g transform="matrix(0.875,0,0,1,6.575,0)"><rect x="20.09" y="801.39" width="4.31" height="3.26" fill="#fff"/><rect x="26.98" y="801.39" width="4.16" height="3.26" fill="#fff"/></g>
<rect x="180.30" y="583.40" width="210.90" height="53.90" fill="#fff" stroke="#627474" stroke-width="1.1"/>
<rect x="225.70" y="588.00" width="15.11" height="24.70" fill="#57c1fc"/>
<rect x="240.76" y="588.00" width="30.17" height="24.70" fill="#70fc74"/>
<rect x="270.88" y="588.00" width="30.17" height="24.70" fill="#5cfa00"/>
<rect x="301.00" y="588.00" width="30.17" height="24.70" fill="#a8f800"/>
<rect x="331.12" y="588.00" width="30.17" height="24.70" fill="#ffa000"/>
<rect x="361.24" y="588.00" width="15.11" height="24.70" fill="#ff1208"/>
<text x="197.90" y="634.00" font-family="Liberation Sans, Arial, Helvetica, sans-serif" font-size="16.0" text-anchor="start" fill="#000" stroke="#000" stroke-width="0.35" transform="matrix(0.91,0,0,1,17.811,0)" letter-spacing="0.7">c1:</text><g transform="matrix(0.91,0,0,1,17.811,0)"><rect x="206.52" y="632.00" width="3.68" height="3.00" fill="#fff"/><rect x="212.46" y="632.00" width="3.55" height="3.00" fill="#fff"/></g>
<text x="240.76" y="634.00" font-family="Liberation Sans, Arial, Helvetica, sans-serif" font-size="16.0" text-anchor="middle" fill="#000" stroke="#000" stroke-width="0.35" transform="matrix(0.91,0,0,1,21.668,0)" >50</text>
<text x="270.88" y="634.00" font-family="Liberation Sans, Arial, Helvetica, sans-serif" font-size="16.0" text-anchor="middle" fill="#000" stroke="#000" stroke-width="0.35" transform="matrix(0.91,0,0,1,24.379,0)" >100</text><g transform="matrix(0.91,0,0,1,24.379,0)"><rect x="257.45" y="632.00" width="3.68" height="3.00" fill="#fff"/><rect x="263.39" y="632.00" width="3.55" height="3.00" fill="#fff"/></g>
<text x="301.00" y="634.00" font-family="Liberation Sans, Arial, Helvetica, sans-serif" font-size="16.0" text-anchor="middle" fill="#000" stroke="#000" stroke-width="0.35" transform="matrix(0.91,0,0,1,27.090,0)" >200</text>
<text x="331.12" y="634.00" font-family="Liberation Sans, Arial, Helvetica, sans-serif" font-size="16.0" text-anchor="middle" fill="#000" stroke="#000" stroke-width="0.35" transform="matrix(0.91,0,0,1,29.801,0)" >500</text>
<text x="361.24" y="634.00" font-family="Liberation Sans, Arial, Helvetica, sans-serif" font-size="16.0" text-anchor="middle" fill="#000" stroke="#000" stroke-width="0.35" transform="matrix(0.91,0,0,1,32.512,0)" >800</text>
<rect x="442.80" y="605.10" width="129.30" height="67.90" fill="#fff" stroke="#1a2626" stroke-width="1.5"/>
<text x="506.75" y="656.10" font-family="Liberation Sans, Arial, Helvetica, sans-serif" font-size="45.5" text-anchor="middle" fill="#000" stroke="#000" stroke-width="0.2" transform="matrix(0.975,0,0,1,12.669,0)" >2024</text></g>
</svg>
</body></html>
